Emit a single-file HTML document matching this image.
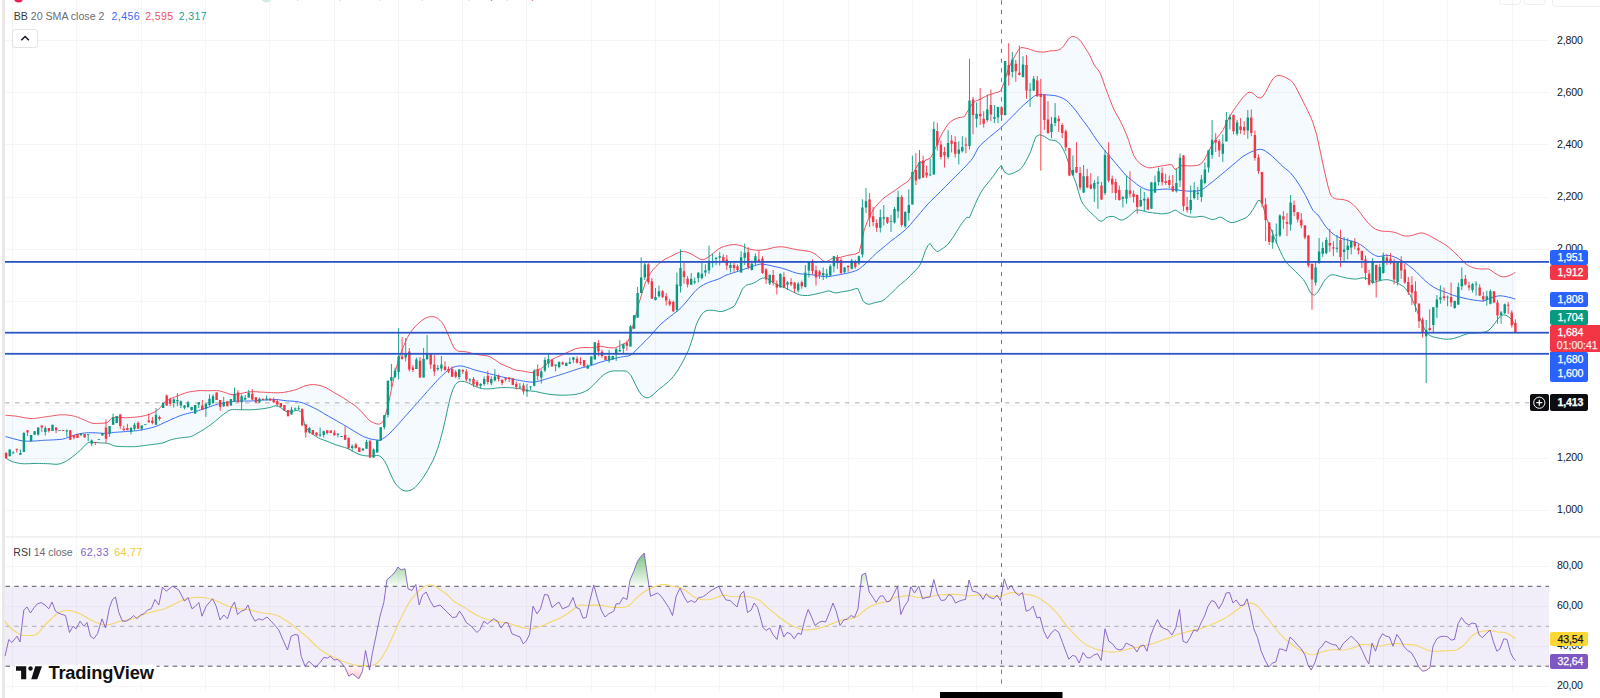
<!DOCTYPE html>
<html><head><meta charset="utf-8"><title>Chart</title>
<style>
html,body{margin:0;padding:0;background:#fff}
body{width:1600px;height:698px;overflow:hidden;position:relative;font-family:"Liberation Sans",sans-serif;}
#c{position:absolute;left:0;top:0;width:1600px;height:698px;overflow:hidden;background:#fff}
.ax{position:absolute;left:1557px;font-size:10.600px;line-height:12px;color:#131722;letter-spacing:-0.150px;white-space:nowrap}
.pl{position:absolute;box-sizing:border-box;-webkit-text-stroke:0.250px currentColor;font-size:10.600px;line-height:14px;letter-spacing:-0.150px;padding-left:7.500px;border-radius:2px;white-space:nowrap}
.lg{position:absolute;left:0;padding-left:13.700px;font-size:10.600px;line-height:12px;color:#6a6d77;white-space:nowrap;letter-spacing:0px}
.lg .n{position:absolute;top:0;letter-spacing:0.380px}
.lg b{font-weight:normal;color:#363942}
#ohlc{position:absolute;left:281.400px;top:-10.800px;font-size:10.600px;line-height:12px;color:#f23645;white-space:nowrap;word-spacing:2.300px;letter-spacing:0.380px}
#btn{position:absolute;left:12px;top:29px;width:26px;height:18.500px;box-sizing:border-box;border:1px solid #e2e3e6;border-radius:3px;background:#fff}
#tv{position:absolute;left:48.500px;top:663.100px;font-size:18.300px;line-height:20px;font-weight:bold;color:#101114;letter-spacing:-0.200px;white-space:nowrap}
</style></head><body><div id="c">
<svg width="1600" height="698" viewBox="0 0 1600 698" style="position:absolute;left:0;top:0">
<rect x="2" y="0" width="3" height="698" fill="#e9e9e9"/>
<path d="M12.5 0V691 M76.5 0V691 M141.5 0V691 M205.5 0V691 M269.5 0V691 M334.5 0V691 M398.5 0V691 M462.5 0V691 M526.5 0V691 M591.5 0V691 M655.5 0V691 M719.5 0V691 M783.5 0V691 M848.5 0V691 M912.5 0V691 M976.5 0V691 M1041.5 0V691 M1105.5 0V691 M1169.5 0V691 M1233.5 0V691 M1319.5 0V691 M1383.5 0V691 M1447.5 0V691 M1512.5 0V691 M5 40.5H1549 M5 92.5H1549 M5 144.5H1549 M5 197.5H1549 M5 249.5H1549 M5 301.5H1549 M5 353.5H1549 M5 405.5H1549 M5 458.5H1549 M5 510.5H1549 M5 566.5H1549 M5 606.5H1549 M5 646.5H1549 M5 686.5H1549" stroke="#f5f5f6" stroke-width="1" fill="none"/>
<rect x="5" y="536.200" width="1595" height="1.500" fill="#eeeeef"/>
<path d="M5.5 415.3 L7.2 415.4 L9.7 415.5 L12.4 415.8 L15 416 L17.1 416.3 L19.1 416.7 L21.2 417.1 L23.2 417.5 L25.1 417.8 L27.7 418.2 L30 418.5 L32.6 418.5 L34.4 418.4 L36.4 418.2 L38.5 417.9 L40.6 417.6 L42.6 417.3 L44.6 417 L46.6 416.7 L48.7 416.4 L50.7 416.1 L52.7 415.8 L54.7 415.5 L56.7 415.3 L58.7 415 L60.7 414.8 L62.7 414.8 L64.7 414.8 L66.8 415 L68.9 415.2 L70.9 415.5 L72.7 415.8 L75.4 416.5 L77.8 417.3 L80.3 418.3 L82.9 419.4 L85.5 420.5 L87.8 421.6 L90.3 422.6 L92.8 423.3 L95.1 423.5 L97.7 423.4 L100.3 423.3 L103 423.2 L105.6 422.9 L107.8 422.3 L111.6 418.3 L113.5 417.7 L115.6 417.4 L117.9 417.3 L120.3 417.4 L122.8 417.6 L125.4 417.8 L127.9 417.7 L130.4 417.5 L132.9 417.3 L135.4 417.1 L137.9 416.9 L140.4 416.5 L142.9 416.1 L145.5 415.5 L148 414.8 L150.6 413.8 L153.2 412.7 L155.5 411.5 L158.2 409.5 L160.5 407.3 L162.9 404.3 L165.5 401.5 L167.8 400.1 L170.4 398.9 L173 397.7 L175.5 396.6 L178.1 395.7 L180.6 394.7 L183 393.8 L185.4 393 L188.1 392.2 L189.9 391.8 L191.9 391.5 L194 391.2 L196.1 390.9 L198.1 390.7 L200.1 390.6 L202.1 390.6 L204.1 390.6 L206.1 390.7 L208.2 390.7 L210.2 390.7 L212.3 390.6 L214.3 390.6 L216.3 390.6 L218.2 390.7 L220.9 391.2 L223.4 392 L225.7 392.7 L227.9 393.5 L229.9 394.3 L232 394.7 L234 394.7 L236 394.4 L238.2 394 L240.3 393.6 L242.6 393.1 L244.9 392.6 L247 392.2 L249.2 391.9 L251 391.8 L253.3 391.7 L255.1 391.7 L257 391.8 L259.1 392 L261.3 392.1 L263.3 392.2 L265.4 392.3 L267.5 392.4 L269.5 392.5 L271.5 392.6 L273.4 392.7 L276 392.8 L278.5 392.8 L280.9 392.7 L283.4 392.4 L285.9 392 L288.4 391.5 L290.9 391 L293.4 390.4 L295.9 389.7 L298.4 388.7 L300.9 387.5 L303.4 386.4 L306 385.7 L308.5 385 L311 384.7 L313.5 384.6 L316 384.8 L318.5 385.2 L321 385.8 L323.5 386.6 L326 387.7 L328.5 389.1 L331 390.6 L333.5 392.2 L336.1 393.6 L338.6 395 L341.1 396.5 L343.6 398.1 L346.1 399.8 L348.6 401.5 L351.1 403.1 L353.6 404.6 L356.1 406.5 L358.7 408.9 L361.3 411.6 L363.6 414 L366.3 417.2 L368.7 419.8 L371.1 421.6 L373.7 422.8 L376.5 423.9 L379.3 424.1 L381.7 423 L383.8 420.3 L387.5 407.8 L391.3 390.2 L395 372.6 L397.5 363.5 L400.1 355.1 L402.6 348.4 L405.1 342.8 L407.4 337.6 L410.1 332.9 L412.4 329.8 L415 326.8 L417.6 324.1 L420.2 321.8 L422.7 319.9 L425.1 318.4 L427.3 317.4 L429.4 316.8 L431.4 316.6 L433.5 316.7 L435.6 317.3 L437.7 318.4 L439.8 320.2 L442 322.5 L443.9 325.4 L446.5 330.8 L449 336.7 L451.6 342.8 L454 348 L457.7 351 L460 351.4 L462.6 351.5 L465.3 351.7 L467.8 352.2 L470.3 352.9 L472.8 353.5 L475.3 354 L477.8 354.5 L480.3 355 L482.9 355.3 L485.4 355.5 L487.8 356 L490 356.9 L492.1 358 L494.1 359.2 L496.2 360.6 L498.2 362.1 L500.4 363.5 L502.8 364.7 L505.3 365.7 L507.9 366.8 L510.4 367.9 L512.9 369.1 L515.4 370 L517.9 370.5 L520.4 370.7 L522.9 371 L525.6 371.6 L528.3 372.1 L530.5 372.5 L533 372.6 L535.5 370.1 L537.8 369.6 L540.5 368.9 L542.9 367.3 L545.5 365.1 L547.8 363.1 L550.4 360.8 L553 358.9 L555.5 357.6 L558.1 356.6 L560.6 355.6 L563.1 354.4 L565.6 353.2 L568.1 352.1 L570.6 350.9 L573.1 349.8 L575.6 348.8 L578 348.2 L580.4 347.8 L583.1 347.6 L585 347.5 L587.1 347.5 L589.2 347.6 L591.3 347.6 L593.2 347.6 L595.9 347.2 L598.3 346.6 L600.7 346.3 L603.2 346.6 L605.7 347.2 L608.2 347.6 L610.7 347.8 L613.2 347.9 L615.7 347.6 L618.3 346.5 L620.9 345.1 L623.3 343.8 L626.1 342.8 L628.3 341.3 L630.8 332.9 L634.5 320.4 L638.3 305.3 L642.1 292.8 L645.8 281.5 L648.3 276.8 L650.8 272.7 L653.2 269.4 L655.9 266.5 L658.2 264.3 L660.8 262.1 L663.4 260.2 L665.9 258.7 L668.4 257.6 L670.9 256.4 L673.5 255.1 L676.1 253.7 L678.4 252.7 L680.9 251.6 L683.4 251.4 L685.8 251.9 L688.4 252.8 L691 253.9 L693.6 255.3 L696.2 256.9 L698.5 258.2 L701 259.5 L703.5 259.7 L705.8 258.7 L708.4 257 L711 255.2 L713.5 253.1 L716.1 250.8 L718.6 248.9 L721.1 247.6 L723.6 246.6 L726.1 245.9 L728.6 245.3 L731.1 244.8 L733.6 244.6 L736.1 244.7 L738.6 245.1 L741.1 245.6 L743.6 246.6 L746.1 247.9 L748.7 248.9 L751.3 249.5 L753.9 249.9 L756.2 250.2 L760 250.3 L762.2 250 L764.9 249.6 L767.5 249.1 L770 248.5 L772.5 247.8 L775 247.3 L777.6 247 L780.1 246.8 L782.6 246.8 L785.1 247.2 L787.6 247.7 L790.1 248.3 L792.6 248.8 L795.1 249.3 L797.6 249.8 L800.2 250.2 L802.8 250.5 L805.1 250.8 L807.8 251.1 L810.2 251.6 L812.7 252.6 L815.2 254.1 L817.6 256.1 L820.2 258.3 L822.8 260.6 L825.7 261.8 L827.9 261.1 L830.3 259.6 L832.7 258.3 L835.2 257.9 L837.7 257.7 L840.3 257.3 L842.8 256.7 L845.3 256 L847.8 255.3 L850.4 254.9 L853.1 254.5 L855.3 254.1 L859.1 252.3 L861.6 242.8 L864.1 230.3 L867.8 220.2 L870.3 215 L872.9 210.2 L875.4 206.7 L877.9 203.9 L880.4 201.3 L882.9 198.9 L885.2 197 L887.9 195.1 L890.2 193.6 L892.8 191.9 L895.4 190.1 L898 188.2 L900.6 186.3 L902.9 184.6 L905.7 182.9 L908 181.3 L911.7 176.3 L915.5 168.8 L918.1 164.4 L920.5 161.3 L923 164.2 L925.5 160 L927.9 159.3 L930.5 157.9 L933 153.5 L935.5 147.9 L938.1 142.2 L940.6 136.6 L943.1 131.9 L945.6 127.8 L947.9 124.4 L950.6 121.6 L953 120 L955.6 118.8 L958.1 117.8 L960.4 117.4 L962.5 117.2 L964.4 116.5 L968.2 110.3 L970.4 106.3 L973.2 102.7 L975.5 101.2 L978.1 100.1 L980.7 99 L983.2 97.7 L985.7 96.4 L988.2 95.2 L990.8 94.3 L993.4 93.5 L995.7 92.7 L998.5 92.1 L1000.8 90.7 L1004.5 81.4 L1008.3 68.9 L1010.7 63.6 L1013.3 58.9 L1016 54 L1018.3 50.1 L1020.8 47.6 L1023 47.7 L1025.6 48.2 L1028.3 48.8 L1030.8 49.6 L1033.4 50.6 L1035.9 51.3 L1038.4 51.8 L1040.9 52 L1043.4 52.1 L1045.9 51.8 L1048.4 51.3 L1050.9 50.8 L1053.5 50.7 L1056.1 50.5 L1058.4 50.1 L1061.1 48.6 L1063.4 46.3 L1066 42.5 L1068.5 38.8 L1072.2 36.3 L1074.2 36.6 L1076.4 37.5 L1078.5 38.8 L1081.3 41.9 L1083.5 45.1 L1085.2 48 L1087.6 51.6 L1090.2 56 L1092.1 60.5 L1094.2 65.1 L1096.1 67.6 L1098.2 70 L1100.2 73.1 L1102.8 79.8 L1105.2 87.1 L1107.8 93.9 L1110.2 100.2 L1112.2 105.4 L1114.2 110 L1116.3 113.9 L1118.6 117.8 L1121.1 122.5 L1123.6 127.8 L1126.1 133.8 L1128.7 140.4 L1131.1 148.2 L1133.7 155.4 L1136.5 159.9 L1139.3 162.9 L1142.2 165.1 L1145 166.6 L1147.4 167.6 L1150 167.9 L1152.4 167.6 L1155 167.1 L1157.6 166.6 L1160.1 166.2 L1162.6 165.7 L1165.1 165.4 L1167.6 164.9 L1169.9 164.6 L1171.9 164.8 L1175 169.6 L1177.5 168.1 L1180.7 165.7 L1182.6 165.6 L1185.1 165.7 L1187.7 165.8 L1190.2 165.9 L1192.5 165.8 L1194.8 165.7 L1197 165.4 L1198.9 164.9 L1201.7 163.2 L1203.9 160.3 L1206.4 155.7 L1209 150.3 L1210.9 147 L1213 143.6 L1215.2 140.3 L1217.7 137 L1220.3 133.8 L1222.8 130.3 L1224.9 126.2 L1227 121.8 L1229 117.7 L1231.1 114.2 L1233.1 110.9 L1235.3 107.7 L1237.8 104.2 L1240.4 100.7 L1242.8 97.6 L1245.1 95.2 L1247.2 93.3 L1249.1 92.1 L1252.9 93.1 L1255.3 95.5 L1257.9 97.6 L1260.4 97.9 L1262.9 96.4 L1265.4 92.5 L1267.9 87.6 L1270.4 82.9 L1272.9 78.8 L1275.1 76.6 L1277.4 75.6 L1280.2 75.6 L1282.9 76.3 L1285.5 77.4 L1288 78.8 L1290.5 80.3 L1293 82.6 L1295.5 86.6 L1298 91.4 L1300.5 96.3 L1303 101.4 L1305.5 106.3 L1308 111.4 L1310.6 116.9 L1313 122.7 L1316.8 135.3 L1320.6 152.8 L1324.3 170.4 L1328.1 186.7 L1330.6 195 L1332.8 197.4 L1335.6 198.8 L1337.9 199.2 L1340.5 199.3 L1343.1 199.6 L1345.6 200.2 L1348.2 201.1 L1350.7 202.6 L1353.2 204.7 L1355.7 207.2 L1358.2 210.1 L1360.7 213.3 L1363.2 216.9 L1365.7 220.1 L1368.2 223 L1370.7 225.5 L1373.2 227.6 L1375.7 229.2 L1378.2 230.2 L1380.8 230.9 L1383.3 231.3 L1385.8 231.3 L1388.3 231.4 L1390.8 231.7 L1393.3 232.1 L1395.8 232.7 L1398.3 233.6 L1400.8 234.8 L1403.3 235.7 L1405.8 236 L1408.3 236 L1410.8 235.7 L1413.4 235 L1416 234.1 L1418.4 233.4 L1420.9 232.9 L1423.4 233.2 L1425.7 234 L1428.3 235.1 L1430.9 236.4 L1433.4 237.8 L1435.9 239.2 L1438.4 240.7 L1440.9 242.1 L1443.4 243.6 L1446 245.2 L1448.5 247.1 L1451 249.2 L1453.5 251.5 L1456.1 254 L1458.7 256.6 L1461 259 L1463.5 261.7 L1466 264 L1468.3 265.5 L1470.9 266.8 L1473.5 267.8 L1476.1 268.4 L1478.6 268.8 L1481.1 269 L1483.7 269 L1486.3 268.8 L1488.6 269 L1491.1 270.4 L1493.6 272.3 L1496 273.8 L1498.7 275.4 L1501.1 276.6 L1503.8 276.9 L1506.1 276.6 L1508.7 275.8 L1511.2 274.8 L1513.6 273.4 L1515.4 272.3 L1515.4 325.5 L1513.6 322.6 L1511.2 319.2 L1508.7 316.9 L1506.1 315.4 L1503.6 314.8 L1501.1 315.4 L1498.6 318.2 L1496.1 321.7 L1493.6 325 L1491.1 328 L1488.9 330.2 L1486.1 331.7 L1484.4 332.1 L1482.3 332.4 L1480.1 332.7 L1478 332.8 L1476.1 333 L1473.4 333.1 L1470.9 333.2 L1468.5 333.5 L1466 334.2 L1463.5 335.1 L1461 336 L1458.5 336.9 L1456 337.8 L1453.5 338.5 L1451 339 L1448.5 339.2 L1446 339.2 L1443.4 339 L1440.9 338.5 L1438.4 338 L1435.8 337.5 L1433.2 336.9 L1430.9 336 L1428.2 334.4 L1425.9 331.7 L1423.4 326.6 L1420.9 320.4 L1418.4 314.3 L1415.9 307.9 L1413.9 303.2 L1411.7 298.3 L1409.6 294.1 L1407.5 291 L1405.5 288.6 L1403.3 286.6 L1400.9 284.9 L1398.4 283.5 L1395.8 282.3 L1393.3 281.2 L1390.8 280.4 L1388.3 279.8 L1385.8 279.7 L1383.3 279.9 L1380.8 280.3 L1378.2 281.1 L1375.6 282 L1373.2 282.3 L1370.6 280.9 L1368.2 279.1 L1365.9 278.2 L1363.2 277.8 L1360.9 278.1 L1358.3 278.7 L1355.7 279.1 L1353.2 279 L1350.7 278.7 L1348.2 278.3 L1345.6 277.8 L1343.1 277.2 L1340.6 276.6 L1338 275.8 L1335.4 275.1 L1333.1 274.8 L1330.4 275.2 L1328.1 276.6 L1325.6 279.2 L1323.1 282.8 L1320.5 287.4 L1318.1 291.6 L1314.3 295.4 L1310.5 292.9 L1308.1 288.1 L1305.5 282.8 L1303.2 279.5 L1300.5 276.6 L1298.2 274.1 L1295.6 271.6 L1293 269 L1290.4 266.6 L1287.8 264.2 L1285.5 261.5 L1282.8 256.7 L1280.4 251.5 L1277.9 246 L1275.4 240.2 L1272.9 234 L1270.4 227.6 L1267.7 221.2 L1265.4 215.1 L1262.9 205.1 L1260.4 200.6 L1257.9 200.6 L1254.1 207.6 L1252.2 210.6 L1250.1 213.7 L1247.8 216.4 L1245.4 218 L1242.9 219.2 L1240.3 220.1 L1237.7 221.2 L1235.1 222.1 L1232.8 222.6 L1230.3 222.4 L1227.8 221.4 L1225.5 219.9 L1222.9 218.1 L1220.3 217.1 L1217.8 217.7 L1215.4 219 L1212.7 219.6 L1210.8 219.3 L1208.8 218.5 L1206.6 217.7 L1204.6 216.9 L1202.7 216.4 L1200 216.4 L1197.6 216.8 L1195.2 217.1 L1192.7 217.1 L1190.2 216.9 L1187.6 216.4 L1185 215.5 L1182.4 214.3 L1180.1 213.1 L1177.5 211.2 L1175.1 210.1 L1172.8 211.1 L1170.1 212.6 L1167.8 213.2 L1165.2 213.6 L1162.6 213.9 L1160.1 213.8 L1157.6 213.4 L1155 213.1 L1152.5 212.8 L1150 212.5 L1147.5 212.1 L1144.9 211.4 L1142.2 210.6 L1140 210.1 L1136.2 210.2 L1133.9 211.9 L1131.3 214.3 L1128.7 216.5 L1126.1 218.2 L1123.6 219.6 L1121.1 220.2 L1118.6 219.3 L1116.1 217.6 L1113.6 216.5 L1111 216.4 L1108.4 216.9 L1106.1 217.7 L1103.6 220.1 L1101.1 221.5 L1098.7 220.2 L1096.1 217.8 L1093.5 215.2 L1090.9 212.8 L1088.3 210.2 L1086 207.7 L1083.4 204.5 L1081 200.2 L1078.5 191.9 L1076 183 L1073.5 176.6 L1071 170.5 L1068.5 162.8 L1066 155.4 L1063.4 149.7 L1060.9 145.4 L1058.5 142.6 L1055.9 140.9 L1053.9 140.4 L1051.7 140.2 L1049.7 139.9 L1047.1 138.3 L1044.6 136.6 L1042.1 135.4 L1039.6 134.8 L1035.9 136.6 L1033.4 143.4 L1030.8 151.3 L1028.3 156.7 L1025.8 161.3 L1023.5 165.4 L1020.8 168.8 L1018.4 170.6 L1015.7 172 L1013.3 173.1 L1010.5 174.1 L1008.3 174.3 L1004.5 172.1 L1001.3 165.5 L998.2 168.8 L995.9 172.4 L993.2 176.3 L990.7 179.5 L988.2 182.6 L985.7 185.6 L983.2 188.9 L980.7 192.9 L978.2 197.6 L975.6 203.3 L973.2 208.9 L969.4 217.7 L966.9 217.2 L965.1 219.2 L962.9 222.1 L960.6 225.2 L958.5 228.5 L956.4 231.9 L954.4 235.3 L952.3 238.4 L950.2 241.4 L948.1 244 L946 246.1 L943.8 247.7 L941.8 249.1 L939.2 250.9 L936.8 251.6 L933 247.8 L930 243.3 L927.9 245.7 L925.5 250.3 L923.2 257.1 L920.5 264.1 L918.2 267.5 L915.6 270.2 L913 272.9 L910.5 275.5 L908 278 L905.5 280.4 L902.9 282.5 L900.4 284.5 L897.9 286.7 L895.4 289.1 L892.9 291.7 L890.4 294.2 L887.9 296.5 L885.4 298.7 L882.9 300.5 L880.4 301.5 L877.9 302 L875.4 302.5 L872.8 303.3 L870.2 304.1 L867.8 304.2 L865 302.9 L862.8 300.5 L860.3 294.2 L857.8 288.4 L855.7 288.6 L853 289.5 L850.3 290.4 L847.8 290.9 L845.3 291.3 L842.8 291.7 L840.2 292.2 L837.7 292.8 L835.2 292.9 L833.1 292.4 L831 291.5 L829 290.9 L826.9 291.2 L824.9 291.8 L822.7 292.4 L820.3 293 L817.7 293.6 L815.2 294.2 L812.7 294.7 L810.2 295.2 L807.6 295.5 L805.1 295.5 L802.6 295.4 L800.1 295 L797.6 294.1 L795.1 292.9 L792.6 291.7 L790.1 290.4 L787.6 289.1 L785.1 287.9 L782.6 286.9 L780.1 286 L777.6 284.9 L775 283.5 L772.4 281.8 L770 280.4 L767.4 278.8 L765 277.9 L762.4 278.2 L760 279.2 L756.2 281.8 L753.7 283 L751.2 284 L748.6 284.5 L746.1 285.3 L742.4 289 L738.6 297.8 L734.9 305.3 L733 306.9 L730.9 308.1 L728.6 309.1 L726.2 310.2 L723.6 311.1 L721.1 311.6 L718.6 311.4 L716.1 310.8 L713.5 310.3 L710.9 310.2 L708.3 310.3 L706 310.8 L703.4 312.5 L701 315.4 L698.3 320.1 L696 325.4 L693.5 335 L691.3 342.2 L688.5 350.1 L686.1 355.2 L683.5 360.4 L680.9 365.1 L678.4 369.3 L675.9 373.1 L673.4 376.4 L670.9 379.3 L668.4 381.7 L665.9 383.9 L663.4 385.9 L660.9 387.8 L658.4 389.7 L655.8 392.1 L653.2 394.6 L650.8 396.5 L648.2 397.8 L645.8 397.7 L643.3 396.5 L640.8 394 L638.3 390 L635.8 385.2 L633.2 379.9 L630.8 375.2 L627 371.4 L625.2 371 L622.9 370.9 L620.5 370.9 L618.2 370.9 L615.6 370.9 L613.2 370.9 L610.7 371.4 L608.2 372.3 L605.7 373.5 L603.2 375.2 L600.7 377.4 L598.2 380.1 L595.7 382.7 L593.2 385.2 L590.7 387.6 L588.2 389.7 L585.6 391.2 L583.1 392.3 L580.6 393.2 L578.2 393.9 L575.8 394.4 L573.1 394.7 L571.3 394.9 L569.3 395 L567.2 395.1 L565.1 395.2 L563.1 395.2 L561.1 395.2 L559.1 395.1 L557.1 395 L555 394.9 L553 394.7 L551 394.5 L548.9 394.2 L546.8 393.9 L544.9 393.5 L543 393.2 L540.3 392.6 L537.9 392 L535.5 391.5 L533 391.2 L530.5 391 L528 390.7 L525.5 390.2 L523.1 389.5 L520.4 388.9 L518.6 388.6 L516.6 388.4 L514.5 388.1 L512.5 387.9 L510.4 387.7 L508.3 387.6 L506.2 387.6 L504 387.6 L502.1 387.6 L500.4 387.7 L497.7 387.9 L495.4 388.2 L493 388.5 L490.4 388.8 L487.8 388.9 L485.3 388.9 L482.8 388.7 L480.3 388.2 L477.8 387.4 L475.2 386.3 L472.8 385.2 L470.6 384.1 L468.6 383 L466.5 382.2 L464.4 381.6 L462.2 381.3 L460.3 381.4 L457.7 382.2 L455.2 384.7 L452.7 390 L450.2 397.7 L447.7 408.6 L445.2 420.3 L442.7 430.8 L440.2 440.4 L437.8 448.2 L435.2 455.4 L432.9 460.6 L430.2 465.7 L427.6 470.5 L425.1 474.6 L422.6 478.4 L420.1 481.7 L417.6 484.7 L415.1 487.3 L412.6 489.3 L410 490.4 L407.4 491 L405.1 491 L402.4 490.2 L400.1 488.5 L397.6 486.2 L395 483 L392.5 478.3 L390 473 L387.6 467.1 L385 461.7 L382.2 458 L379.3 455.8 L376.6 455.5 L373.7 455.9 L371.3 456 L368.7 456 L366.1 455.9 L363.6 455.5 L361.1 455 L358.6 454.2 L356 453 L353.4 451.6 L351.1 450.4 L348.7 449.1 L346.1 447.9 L344.4 447.3 L342.4 446.8 L340.3 446.2 L338.1 445.5 L336.1 444.9 L334 444.1 L331.9 443.3 L329.9 442.4 L327.9 441.6 L326 440.9 L323.3 439.9 L320.9 439 L318.5 437.9 L315.9 436.4 L313.4 434.8 L311 432.8 L308.6 430.7 L306.5 428.3 L304.7 425.3 L302.2 412.8 L298.4 410.3 L296.1 410.5 L293.4 411.1 L290.9 411.5 L288.2 411.8 L285.9 411.5 L283.4 409.8 L280.9 407.8 L278.4 406.4 L275.9 405.8 L273.7 406.3 L270.8 407.3 L269.2 407.6 L267.2 408 L265.1 408.4 L262.9 408.7 L260.8 409 L258.8 409.2 L256.8 409.4 L254.8 409.6 L252.8 409.7 L250.8 409.8 L248.8 409.8 L246.8 409.8 L244.8 409.8 L242.8 409.8 L240.8 409.8 L238.7 409.7 L236.5 409.6 L234.4 409.5 L232.4 409.6 L230.7 409.8 L227.9 411 L225.7 412.8 L223.4 414.5 L220.7 416.5 L218.4 418.5 L215.8 420.7 L213.2 422.8 L210.7 424.7 L208.2 426.6 L205.6 428.3 L203.1 429.9 L200.6 431.4 L198.1 432.8 L195.7 434.2 L193.3 435.6 L190.6 436.6 L188.7 437 L186.8 437.2 L184.7 437.4 L182.6 437.6 L180.6 437.9 L178.5 438.2 L176.4 438.6 L174.4 438.9 L172.4 439.4 L170.5 439.9 L167.8 440.9 L165.4 442 L163 442.9 L160.6 443.4 L158.2 443.8 L155.5 444.1 L153.6 444.4 L151.7 444.6 L149.6 444.9 L147.5 445.1 L145.5 445.4 L143.4 445.6 L141.4 445.9 L139.4 446.2 L137.4 446.5 L135.4 446.6 L133.4 446.7 L131.4 446.7 L129.4 446.7 L127.4 446.7 L125.4 446.6 L123.3 446.6 L121.3 446.6 L119.2 446.5 L117.2 446.4 L115.4 446.1 L112.7 445.3 L110.3 444.2 L107.8 443.4 L105.3 443 L102.7 443 L100.3 442.9 L98.1 442.7 L96.1 442.5 L94 442.4 L92 442.2 L90 442.1 L87.8 442.9 L85.4 444.9 L82.8 447.7 L80.3 450.4 L77.7 452.6 L75.2 454.7 L72.7 456.7 L70.2 458.5 L67.7 460.2 L65.2 461.7 L62.8 462.8 L60.4 463.7 L57.7 464.2 L55.9 464.3 L54 464.2 L52 464 L49.9 463.8 L47.6 463.7 L45.7 463.6 L43.7 463.6 L41.5 463.5 L39.4 463.5 L37.2 463.4 L35.1 463.4 L33 463.5 L30.8 463.6 L28.7 463.7 L26.6 463.7 L24.5 463.8 L22.6 463.7 L20.4 463.5 L18.2 463.1 L16.2 462.7 L14.3 462.2 L12.5 461.7 L9.7 460.4 L7.2 459 L5.5 457.9Z" fill="#2196f3" fill-opacity="0.05" stroke="none"/>
<path d="M5.5 415.3 L7.2 415.4 L9.7 415.5 L12.4 415.8 L15 416 L17.1 416.3 L19.1 416.7 L21.2 417.1 L23.2 417.5 L25.1 417.8 L27.7 418.2 L30 418.5 L32.6 418.5 L34.4 418.4 L36.4 418.2 L38.5 417.9 L40.6 417.6 L42.6 417.3 L44.6 417 L46.6 416.7 L48.7 416.4 L50.7 416.1 L52.7 415.8 L54.7 415.5 L56.7 415.3 L58.7 415 L60.7 414.8 L62.7 414.8 L64.7 414.8 L66.8 415 L68.9 415.2 L70.9 415.5 L72.7 415.8 L75.4 416.5 L77.8 417.3 L80.3 418.3 L82.9 419.4 L85.5 420.5 L87.8 421.6 L90.3 422.6 L92.8 423.3 L95.1 423.5 L97.7 423.4 L100.3 423.3 L103 423.2 L105.6 422.9 L107.8 422.3 L111.6 418.3 L113.5 417.7 L115.6 417.4 L117.9 417.3 L120.3 417.4 L122.8 417.6 L125.4 417.8 L127.9 417.7 L130.4 417.5 L132.9 417.3 L135.4 417.1 L137.9 416.9 L140.4 416.5 L142.9 416.1 L145.5 415.5 L148 414.8 L150.6 413.8 L153.2 412.7 L155.5 411.5 L158.2 409.5 L160.5 407.3 L162.9 404.3 L165.5 401.5 L167.8 400.1 L170.4 398.9 L173 397.7 L175.5 396.6 L178.1 395.7 L180.6 394.7 L183 393.8 L185.4 393 L188.1 392.2 L189.9 391.8 L191.9 391.5 L194 391.2 L196.1 390.9 L198.1 390.7 L200.1 390.6 L202.1 390.6 L204.1 390.6 L206.1 390.7 L208.2 390.7 L210.2 390.7 L212.3 390.6 L214.3 390.6 L216.3 390.6 L218.2 390.7 L220.9 391.2 L223.4 392 L225.7 392.7 L227.9 393.5 L229.9 394.3 L232 394.7 L234 394.7 L236 394.4 L238.2 394 L240.3 393.6 L242.6 393.1 L244.9 392.6 L247 392.2 L249.2 391.9 L251 391.8 L253.3 391.7 L255.1 391.7 L257 391.8 L259.1 392 L261.3 392.1 L263.3 392.2 L265.4 392.3 L267.5 392.4 L269.5 392.5 L271.5 392.6 L273.4 392.7 L276 392.8 L278.5 392.8 L280.9 392.7 L283.4 392.4 L285.9 392 L288.4 391.5 L290.9 391 L293.4 390.4 L295.9 389.7 L298.4 388.7 L300.9 387.5 L303.4 386.4 L306 385.7 L308.5 385 L311 384.7 L313.5 384.6 L316 384.8 L318.5 385.2 L321 385.8 L323.5 386.6 L326 387.7 L328.5 389.1 L331 390.6 L333.5 392.2 L336.1 393.6 L338.6 395 L341.1 396.5 L343.6 398.1 L346.1 399.8 L348.6 401.5 L351.1 403.1 L353.6 404.6 L356.1 406.5 L358.7 408.9 L361.3 411.6 L363.6 414 L366.3 417.2 L368.7 419.8 L371.1 421.6 L373.7 422.8 L376.5 423.9 L379.3 424.1 L381.7 423 L383.8 420.3 L387.5 407.8 L391.3 390.2 L395 372.6 L397.5 363.5 L400.1 355.1 L402.6 348.4 L405.1 342.8 L407.4 337.6 L410.1 332.9 L412.4 329.8 L415 326.8 L417.6 324.1 L420.2 321.8 L422.7 319.9 L425.1 318.4 L427.3 317.4 L429.4 316.8 L431.4 316.6 L433.5 316.7 L435.6 317.3 L437.7 318.4 L439.8 320.2 L442 322.5 L443.9 325.4 L446.5 330.8 L449 336.7 L451.6 342.8 L454 348 L457.7 351 L460 351.4 L462.6 351.5 L465.3 351.7 L467.8 352.2 L470.3 352.9 L472.8 353.5 L475.3 354 L477.8 354.5 L480.3 355 L482.9 355.3 L485.4 355.5 L487.8 356 L490 356.9 L492.1 358 L494.1 359.2 L496.2 360.6 L498.2 362.1 L500.4 363.5 L502.8 364.7 L505.3 365.7 L507.9 366.8 L510.4 367.9 L512.9 369.1 L515.4 370 L517.9 370.5 L520.4 370.7 L522.9 371 L525.6 371.6 L528.3 372.1 L530.5 372.5 L533 372.6 L535.5 370.1 L537.8 369.6 L540.5 368.9 L542.9 367.3 L545.5 365.1 L547.8 363.1 L550.4 360.8 L553 358.9 L555.5 357.6 L558.1 356.6 L560.6 355.6 L563.1 354.4 L565.6 353.2 L568.1 352.1 L570.6 350.9 L573.1 349.8 L575.6 348.8 L578 348.2 L580.4 347.8 L583.1 347.6 L585 347.5 L587.1 347.5 L589.2 347.6 L591.3 347.6 L593.2 347.6 L595.9 347.2 L598.3 346.6 L600.7 346.3 L603.2 346.6 L605.7 347.2 L608.2 347.6 L610.7 347.8 L613.2 347.9 L615.7 347.6 L618.3 346.5 L620.9 345.1 L623.3 343.8 L626.1 342.8 L628.3 341.3 L630.8 332.9 L634.5 320.4 L638.3 305.3 L642.1 292.8 L645.8 281.5 L648.3 276.8 L650.8 272.7 L653.2 269.4 L655.9 266.5 L658.2 264.3 L660.8 262.1 L663.4 260.2 L665.9 258.7 L668.4 257.6 L670.9 256.4 L673.5 255.1 L676.1 253.7 L678.4 252.7 L680.9 251.6 L683.4 251.4 L685.8 251.9 L688.4 252.8 L691 253.9 L693.6 255.3 L696.2 256.9 L698.5 258.2 L701 259.5 L703.5 259.7 L705.8 258.7 L708.4 257 L711 255.2 L713.5 253.1 L716.1 250.8 L718.6 248.9 L721.1 247.6 L723.6 246.6 L726.1 245.9 L728.6 245.3 L731.1 244.8 L733.6 244.6 L736.1 244.7 L738.6 245.1 L741.1 245.6 L743.6 246.6 L746.1 247.9 L748.7 248.9 L751.3 249.5 L753.9 249.9 L756.2 250.2 L760 250.3 L762.2 250 L764.9 249.6 L767.5 249.1 L770 248.5 L772.5 247.8 L775 247.3 L777.6 247 L780.1 246.8 L782.6 246.8 L785.1 247.2 L787.6 247.7 L790.1 248.3 L792.6 248.8 L795.1 249.3 L797.6 249.8 L800.2 250.2 L802.8 250.5 L805.1 250.8 L807.8 251.1 L810.2 251.6 L812.7 252.6 L815.2 254.1 L817.6 256.1 L820.2 258.3 L822.8 260.6 L825.7 261.8 L827.9 261.1 L830.3 259.6 L832.7 258.3 L835.2 257.9 L837.7 257.7 L840.3 257.3 L842.8 256.7 L845.3 256 L847.8 255.3 L850.4 254.9 L853.1 254.5 L855.3 254.1 L859.1 252.3 L861.6 242.8 L864.1 230.3 L867.8 220.2 L870.3 215 L872.9 210.2 L875.4 206.7 L877.9 203.9 L880.4 201.3 L882.9 198.9 L885.2 197 L887.9 195.1 L890.2 193.6 L892.8 191.9 L895.4 190.1 L898 188.2 L900.6 186.3 L902.9 184.6 L905.7 182.9 L908 181.3 L911.7 176.3 L915.5 168.8 L918.1 164.4 L920.5 161.3 L923 164.2 L925.5 160 L927.9 159.3 L930.5 157.9 L933 153.5 L935.5 147.9 L938.1 142.2 L940.6 136.6 L943.1 131.9 L945.6 127.8 L947.9 124.4 L950.6 121.6 L953 120 L955.6 118.8 L958.1 117.8 L960.4 117.4 L962.5 117.2 L964.4 116.5 L968.2 110.3 L970.4 106.3 L973.2 102.7 L975.5 101.2 L978.1 100.1 L980.7 99 L983.2 97.7 L985.7 96.4 L988.2 95.2 L990.8 94.3 L993.4 93.5 L995.7 92.7 L998.5 92.1 L1000.8 90.7 L1004.5 81.4 L1008.3 68.9 L1010.7 63.6 L1013.3 58.9 L1016 54 L1018.3 50.1 L1020.8 47.6 L1023 47.7 L1025.6 48.2 L1028.3 48.8 L1030.8 49.6 L1033.4 50.6 L1035.9 51.3 L1038.4 51.8 L1040.9 52 L1043.4 52.1 L1045.9 51.8 L1048.4 51.3 L1050.9 50.8 L1053.5 50.7 L1056.1 50.5 L1058.4 50.1 L1061.1 48.6 L1063.4 46.3 L1066 42.5 L1068.5 38.8 L1072.2 36.3 L1074.2 36.6 L1076.4 37.5 L1078.5 38.8 L1081.3 41.9 L1083.5 45.1 L1085.2 48 L1087.6 51.6 L1090.2 56 L1092.1 60.5 L1094.2 65.1 L1096.1 67.6 L1098.2 70 L1100.2 73.1 L1102.8 79.8 L1105.2 87.1 L1107.8 93.9 L1110.2 100.2 L1112.2 105.4 L1114.2 110 L1116.3 113.9 L1118.6 117.8 L1121.1 122.5 L1123.6 127.8 L1126.1 133.8 L1128.7 140.4 L1131.1 148.2 L1133.7 155.4 L1136.5 159.9 L1139.3 162.9 L1142.2 165.1 L1145 166.6 L1147.4 167.6 L1150 167.9 L1152.4 167.6 L1155 167.1 L1157.6 166.6 L1160.1 166.2 L1162.6 165.7 L1165.1 165.4 L1167.6 164.9 L1169.9 164.6 L1171.9 164.8 L1175 169.6 L1177.5 168.1 L1180.7 165.7 L1182.6 165.6 L1185.1 165.7 L1187.7 165.8 L1190.2 165.9 L1192.5 165.8 L1194.8 165.7 L1197 165.4 L1198.9 164.9 L1201.7 163.2 L1203.9 160.3 L1206.4 155.7 L1209 150.3 L1210.9 147 L1213 143.6 L1215.2 140.3 L1217.7 137 L1220.3 133.8 L1222.8 130.3 L1224.9 126.2 L1227 121.8 L1229 117.7 L1231.1 114.2 L1233.1 110.9 L1235.3 107.7 L1237.8 104.2 L1240.4 100.7 L1242.8 97.6 L1245.1 95.2 L1247.2 93.3 L1249.1 92.1 L1252.9 93.1 L1255.3 95.5 L1257.9 97.6 L1260.4 97.9 L1262.9 96.4 L1265.4 92.5 L1267.9 87.6 L1270.4 82.9 L1272.9 78.8 L1275.1 76.6 L1277.4 75.6 L1280.2 75.6 L1282.9 76.3 L1285.5 77.4 L1288 78.8 L1290.5 80.3 L1293 82.6 L1295.5 86.6 L1298 91.4 L1300.5 96.3 L1303 101.4 L1305.5 106.3 L1308 111.4 L1310.6 116.9 L1313 122.7 L1316.8 135.3 L1320.6 152.8 L1324.3 170.4 L1328.1 186.7 L1330.6 195 L1332.8 197.4 L1335.6 198.8 L1337.9 199.2 L1340.5 199.3 L1343.1 199.6 L1345.6 200.2 L1348.2 201.1 L1350.7 202.6 L1353.2 204.7 L1355.7 207.2 L1358.2 210.1 L1360.7 213.3 L1363.2 216.9 L1365.7 220.1 L1368.2 223 L1370.7 225.5 L1373.2 227.6 L1375.7 229.2 L1378.2 230.2 L1380.8 230.9 L1383.3 231.3 L1385.8 231.3 L1388.3 231.4 L1390.8 231.7 L1393.3 232.1 L1395.8 232.7 L1398.3 233.6 L1400.8 234.8 L1403.3 235.7 L1405.8 236 L1408.3 236 L1410.8 235.7 L1413.4 235 L1416 234.1 L1418.4 233.4 L1420.9 232.9 L1423.4 233.2 L1425.7 234 L1428.3 235.1 L1430.9 236.4 L1433.4 237.8 L1435.9 239.2 L1438.4 240.7 L1440.9 242.1 L1443.4 243.6 L1446 245.2 L1448.5 247.1 L1451 249.2 L1453.5 251.5 L1456.1 254 L1458.7 256.6 L1461 259 L1463.5 261.7 L1466 264 L1468.3 265.5 L1470.9 266.8 L1473.5 267.8 L1476.1 268.4 L1478.6 268.8 L1481.1 269 L1483.7 269 L1486.3 268.8 L1488.6 269 L1491.1 270.4 L1493.6 272.3 L1496 273.8 L1498.7 275.4 L1501.1 276.6 L1503.8 276.9 L1506.1 276.6 L1508.7 275.8 L1511.2 274.8 L1513.6 273.4 L1515.4 272.3" stroke="#f0525f" stroke-width="1" fill="none" stroke-linejoin="round"/>
<path d="M5.5 457.9 L7.2 459 L9.7 460.4 L12.5 461.7 L14.3 462.2 L16.2 462.7 L18.2 463.1 L20.4 463.5 L22.6 463.7 L24.5 463.8 L26.6 463.7 L28.7 463.7 L30.8 463.6 L33 463.5 L35.1 463.4 L37.2 463.4 L39.4 463.5 L41.5 463.5 L43.7 463.6 L45.7 463.6 L47.6 463.7 L49.9 463.8 L52 464 L54 464.2 L55.9 464.3 L57.7 464.2 L60.4 463.7 L62.8 462.8 L65.2 461.7 L67.7 460.2 L70.2 458.5 L72.7 456.7 L75.2 454.7 L77.7 452.6 L80.3 450.4 L82.8 447.7 L85.4 444.9 L87.8 442.9 L90 442.1 L92 442.2 L94 442.4 L96.1 442.5 L98.1 442.7 L100.3 442.9 L102.7 443 L105.3 443 L107.8 443.4 L110.3 444.2 L112.7 445.3 L115.4 446.1 L117.2 446.4 L119.2 446.5 L121.3 446.6 L123.3 446.6 L125.4 446.6 L127.4 446.7 L129.4 446.7 L131.4 446.7 L133.4 446.7 L135.4 446.6 L137.4 446.5 L139.4 446.2 L141.4 445.9 L143.4 445.6 L145.5 445.4 L147.5 445.1 L149.6 444.9 L151.7 444.6 L153.6 444.4 L155.5 444.1 L158.2 443.8 L160.6 443.4 L163 442.9 L165.4 442 L167.8 440.9 L170.5 439.9 L172.4 439.4 L174.4 438.9 L176.4 438.6 L178.5 438.2 L180.6 437.9 L182.6 437.6 L184.7 437.4 L186.8 437.2 L188.7 437 L190.6 436.6 L193.3 435.6 L195.7 434.2 L198.1 432.8 L200.6 431.4 L203.1 429.9 L205.6 428.3 L208.2 426.6 L210.7 424.7 L213.2 422.8 L215.8 420.7 L218.4 418.5 L220.7 416.5 L223.4 414.5 L225.7 412.8 L227.9 411 L230.7 409.8 L232.4 409.6 L234.4 409.5 L236.5 409.6 L238.7 409.7 L240.8 409.8 L242.8 409.8 L244.8 409.8 L246.8 409.8 L248.8 409.8 L250.8 409.8 L252.8 409.7 L254.8 409.6 L256.8 409.4 L258.8 409.2 L260.8 409 L262.9 408.7 L265.1 408.4 L267.2 408 L269.2 407.6 L270.8 407.3 L273.7 406.3 L275.9 405.8 L278.4 406.4 L280.9 407.8 L283.4 409.8 L285.9 411.5 L288.2 411.8 L290.9 411.5 L293.4 411.1 L296.1 410.5 L298.4 410.3 L302.2 412.8 L304.7 425.3 L306.5 428.3 L308.6 430.7 L311 432.8 L313.4 434.8 L315.9 436.4 L318.5 437.9 L320.9 439 L323.3 439.9 L326 440.9 L327.9 441.6 L329.9 442.4 L331.9 443.3 L334 444.1 L336.1 444.9 L338.1 445.5 L340.3 446.2 L342.4 446.8 L344.4 447.3 L346.1 447.9 L348.7 449.1 L351.1 450.4 L353.4 451.6 L356 453 L358.6 454.2 L361.1 455 L363.6 455.5 L366.1 455.9 L368.7 456 L371.3 456 L373.7 455.9 L376.6 455.5 L379.3 455.8 L382.2 458 L385 461.7 L387.6 467.1 L390 473 L392.5 478.3 L395 483 L397.6 486.2 L400.1 488.5 L402.4 490.2 L405.1 491 L407.4 491 L410 490.4 L412.6 489.3 L415.1 487.3 L417.6 484.7 L420.1 481.7 L422.6 478.4 L425.1 474.6 L427.6 470.5 L430.2 465.7 L432.9 460.6 L435.2 455.4 L437.8 448.2 L440.2 440.4 L442.7 430.8 L445.2 420.3 L447.7 408.6 L450.2 397.7 L452.7 390 L455.2 384.7 L457.7 382.2 L460.3 381.4 L462.2 381.3 L464.4 381.6 L466.5 382.2 L468.6 383 L470.6 384.1 L472.8 385.2 L475.2 386.3 L477.8 387.4 L480.3 388.2 L482.8 388.7 L485.3 388.9 L487.8 388.9 L490.4 388.8 L493 388.5 L495.4 388.2 L497.7 387.9 L500.4 387.7 L502.1 387.6 L504 387.6 L506.2 387.6 L508.3 387.6 L510.4 387.7 L512.5 387.9 L514.5 388.1 L516.6 388.4 L518.6 388.6 L520.4 388.9 L523.1 389.5 L525.5 390.2 L528 390.7 L530.5 391 L533 391.2 L535.5 391.5 L537.9 392 L540.3 392.6 L543 393.2 L544.9 393.5 L546.8 393.9 L548.9 394.2 L551 394.5 L553 394.7 L555 394.9 L557.1 395 L559.1 395.1 L561.1 395.2 L563.1 395.2 L565.1 395.2 L567.2 395.1 L569.3 395 L571.3 394.9 L573.1 394.7 L575.8 394.4 L578.2 393.9 L580.6 393.2 L583.1 392.3 L585.6 391.2 L588.2 389.7 L590.7 387.6 L593.2 385.2 L595.7 382.7 L598.2 380.1 L600.7 377.4 L603.2 375.2 L605.7 373.5 L608.2 372.3 L610.7 371.4 L613.2 370.9 L615.6 370.9 L618.2 370.9 L620.5 370.9 L622.9 370.9 L625.2 371 L627 371.4 L630.8 375.2 L633.2 379.9 L635.8 385.2 L638.3 390 L640.8 394 L643.3 396.5 L645.8 397.7 L648.2 397.8 L650.8 396.5 L653.2 394.6 L655.8 392.1 L658.4 389.7 L660.9 387.8 L663.4 385.9 L665.9 383.9 L668.4 381.7 L670.9 379.3 L673.4 376.4 L675.9 373.1 L678.4 369.3 L680.9 365.1 L683.5 360.4 L686.1 355.2 L688.5 350.1 L691.3 342.2 L693.5 335 L696 325.4 L698.3 320.1 L701 315.4 L703.4 312.5 L706 310.8 L708.3 310.3 L710.9 310.2 L713.5 310.3 L716.1 310.8 L718.6 311.4 L721.1 311.6 L723.6 311.1 L726.2 310.2 L728.6 309.1 L730.9 308.1 L733 306.9 L734.9 305.3 L738.6 297.8 L742.4 289 L746.1 285.3 L748.6 284.5 L751.2 284 L753.7 283 L756.2 281.8 L760 279.2 L762.4 278.2 L765 277.9 L767.4 278.8 L770 280.4 L772.4 281.8 L775 283.5 L777.6 284.9 L780.1 286 L782.6 286.9 L785.1 287.9 L787.6 289.1 L790.1 290.4 L792.6 291.7 L795.1 292.9 L797.6 294.1 L800.1 295 L802.6 295.4 L805.1 295.5 L807.6 295.5 L810.2 295.2 L812.7 294.7 L815.2 294.2 L817.7 293.6 L820.3 293 L822.7 292.4 L824.9 291.8 L826.9 291.2 L829 290.9 L831 291.5 L833.1 292.4 L835.2 292.9 L837.7 292.8 L840.2 292.2 L842.8 291.7 L845.3 291.3 L847.8 290.9 L850.3 290.4 L853 289.5 L855.7 288.6 L857.8 288.4 L860.3 294.2 L862.8 300.5 L865 302.9 L867.8 304.2 L870.2 304.1 L872.8 303.3 L875.4 302.5 L877.9 302 L880.4 301.5 L882.9 300.5 L885.4 298.7 L887.9 296.5 L890.4 294.2 L892.9 291.7 L895.4 289.1 L897.9 286.7 L900.4 284.5 L902.9 282.5 L905.5 280.4 L908 278 L910.5 275.5 L913 272.9 L915.6 270.2 L918.2 267.5 L920.5 264.1 L923.2 257.1 L925.5 250.3 L927.9 245.7 L930 243.3 L933 247.8 L936.8 251.6 L939.2 250.9 L941.8 249.1 L943.8 247.7 L946 246.1 L948.1 244 L950.2 241.4 L952.3 238.4 L954.4 235.3 L956.4 231.9 L958.5 228.5 L960.6 225.2 L962.9 222.1 L965.1 219.2 L966.9 217.2 L969.4 217.7 L973.2 208.9 L975.6 203.3 L978.2 197.6 L980.7 192.9 L983.2 188.9 L985.7 185.6 L988.2 182.6 L990.7 179.5 L993.2 176.3 L995.9 172.4 L998.2 168.8 L1001.3 165.5 L1004.5 172.1 L1008.3 174.3 L1010.5 174.1 L1013.3 173.1 L1015.7 172 L1018.4 170.6 L1020.8 168.8 L1023.5 165.4 L1025.8 161.3 L1028.3 156.7 L1030.8 151.3 L1033.4 143.4 L1035.9 136.6 L1039.6 134.8 L1042.1 135.4 L1044.6 136.6 L1047.1 138.3 L1049.7 139.9 L1051.7 140.2 L1053.9 140.4 L1055.9 140.9 L1058.5 142.6 L1060.9 145.4 L1063.4 149.7 L1066 155.4 L1068.5 162.8 L1071 170.5 L1073.5 176.6 L1076 183 L1078.5 191.9 L1081 200.2 L1083.4 204.5 L1086 207.7 L1088.3 210.2 L1090.9 212.8 L1093.5 215.2 L1096.1 217.8 L1098.7 220.2 L1101.1 221.5 L1103.6 220.1 L1106.1 217.7 L1108.4 216.9 L1111 216.4 L1113.6 216.5 L1116.1 217.6 L1118.6 219.3 L1121.1 220.2 L1123.6 219.6 L1126.1 218.2 L1128.7 216.5 L1131.3 214.3 L1133.9 211.9 L1136.2 210.2 L1140 210.1 L1142.2 210.6 L1144.9 211.4 L1147.5 212.1 L1150 212.5 L1152.5 212.8 L1155 213.1 L1157.6 213.4 L1160.1 213.8 L1162.6 213.9 L1165.2 213.6 L1167.8 213.2 L1170.1 212.6 L1172.8 211.1 L1175.1 210.1 L1177.5 211.2 L1180.1 213.1 L1182.4 214.3 L1185 215.5 L1187.6 216.4 L1190.2 216.9 L1192.7 217.1 L1195.2 217.1 L1197.6 216.8 L1200 216.4 L1202.7 216.4 L1204.6 216.9 L1206.6 217.7 L1208.8 218.5 L1210.8 219.3 L1212.7 219.6 L1215.4 219 L1217.8 217.7 L1220.3 217.1 L1222.9 218.1 L1225.5 219.9 L1227.8 221.4 L1230.3 222.4 L1232.8 222.6 L1235.1 222.1 L1237.7 221.2 L1240.3 220.1 L1242.9 219.2 L1245.4 218 L1247.8 216.4 L1250.1 213.7 L1252.2 210.6 L1254.1 207.6 L1257.9 200.6 L1260.4 200.6 L1262.9 205.1 L1265.4 215.1 L1267.7 221.2 L1270.4 227.6 L1272.9 234 L1275.4 240.2 L1277.9 246 L1280.4 251.5 L1282.8 256.7 L1285.5 261.5 L1287.8 264.2 L1290.4 266.6 L1293 269 L1295.6 271.6 L1298.2 274.1 L1300.5 276.6 L1303.2 279.5 L1305.5 282.8 L1308.1 288.1 L1310.5 292.9 L1314.3 295.4 L1318.1 291.6 L1320.5 287.4 L1323.1 282.8 L1325.6 279.2 L1328.1 276.6 L1330.4 275.2 L1333.1 274.8 L1335.4 275.1 L1338 275.8 L1340.6 276.6 L1343.1 277.2 L1345.6 277.8 L1348.2 278.3 L1350.7 278.7 L1353.2 279 L1355.7 279.1 L1358.3 278.7 L1360.9 278.1 L1363.2 277.8 L1365.9 278.2 L1368.2 279.1 L1370.6 280.9 L1373.2 282.3 L1375.6 282 L1378.2 281.1 L1380.8 280.3 L1383.3 279.9 L1385.8 279.7 L1388.3 279.8 L1390.8 280.4 L1393.3 281.2 L1395.8 282.3 L1398.4 283.5 L1400.9 284.9 L1403.3 286.6 L1405.5 288.6 L1407.5 291 L1409.6 294.1 L1411.7 298.3 L1413.9 303.2 L1415.9 307.9 L1418.4 314.3 L1420.9 320.4 L1423.4 326.6 L1425.9 331.7 L1428.2 334.4 L1430.9 336 L1433.2 336.9 L1435.8 337.5 L1438.4 338 L1440.9 338.5 L1443.4 339 L1446 339.2 L1448.5 339.2 L1451 339 L1453.5 338.5 L1456 337.8 L1458.5 336.9 L1461 336 L1463.5 335.1 L1466 334.2 L1468.5 333.5 L1470.9 333.2 L1473.4 333.1 L1476.1 333 L1478 332.8 L1480.1 332.7 L1482.3 332.4 L1484.4 332.1 L1486.1 331.7 L1488.9 330.2 L1491.1 328 L1493.6 325 L1496.1 321.7 L1498.6 318.2 L1501.1 315.4 L1503.6 314.8 L1506.1 315.4 L1508.7 316.9 L1511.2 319.2 L1513.6 322.6 L1515.4 325.5" stroke="#2a9d8a" stroke-width="1" fill="none" stroke-linejoin="round"/>
<path d="M5.5 436.6 L7.3 437.1 L9.8 437.7 L12.6 438.5 L15 439.1 L17.6 439.8 L20 440.4 L22.6 440.9 L24.4 441 L26.4 441.1 L28.5 441.2 L30.6 441.2 L32.6 441.1 L34.6 441 L36.6 440.9 L38.6 440.7 L40.6 440.5 L42.6 440.4 L44.6 440.2 L46.6 440.2 L48.7 440.1 L50.7 440 L52.7 439.9 L54.7 439.8 L56.8 439.7 L58.9 439.5 L60.9 439.4 L62.7 439.1 L65.4 438.4 L67.8 437.5 L70.2 436.6 L72.7 435.7 L75.1 434.8 L77.7 434.1 L79.8 433.7 L82.1 433.3 L84.3 433 L86.5 432.8 L88.7 432.7 L90.8 432.7 L93 432.8 L95.3 432.8 L97.2 432.9 L99.2 433.1 L101.3 433.2 L103.3 433.3 L105.3 433.3 L107.3 433.2 L109.3 433 L111.3 432.8 L113.4 432.5 L115.4 432.3 L117.4 432.2 L119.4 432 L121.4 431.9 L123.4 431.7 L125.4 431.6 L127.4 431.4 L129.4 431.3 L131.4 431.2 L133.4 431 L135.4 430.8 L137.4 430.6 L139.4 430.2 L141.4 429.9 L143.4 429.5 L145.5 429.1 L147.5 428.6 L149.6 428.2 L151.7 427.7 L153.6 427.1 L155.5 426.6 L158.2 425.5 L160.6 424.4 L163 423.3 L165.5 422.1 L168 421 L170.5 419.8 L173 418.7 L175.5 417.6 L178.1 416.5 L180.5 415.6 L182.9 414.8 L185.6 414 L187.5 413.5 L189.5 413 L191.7 412.5 L193.7 412 L195.6 411.5 L198.3 410.7 L200.7 409.8 L203.1 409 L205.6 408.2 L208.2 407.3 L210.7 406.5 L213.2 405.6 L215.7 404.7 L218.2 404 L220.7 403.5 L223.2 403.1 L225.7 402.7 L228.2 402.3 L230.7 401.9 L233.2 401.5 L235.6 401.2 L238.1 401.1 L240.8 401 L242.6 401 L244.6 401 L246.7 401 L248.7 401 L250.8 401 L252.8 400.9 L254.8 400.7 L256.8 400.6 L258.8 400.4 L260.8 400.2 L262.9 400.1 L264.9 400 L267 399.9 L269 399.8 L270.8 399.7 L273.5 399.7 L276 399.6 L278.4 399.7 L280.8 400 L283.2 400.4 L285.9 400.7 L287.8 400.9 L289.8 401 L292 401.1 L294 401.3 L295.9 401.5 L298.6 401.9 L301 402.5 L303.4 403.2 L306 404.2 L308.5 405.3 L311 406.5 L313.5 407.7 L316 408.9 L318.5 410.3 L321 411.7 L323.5 413.3 L326 414.8 L328.5 416.2 L331 417.6 L333.5 419 L336.1 420.5 L338.6 421.9 L341.1 423.3 L343.6 424.8 L346.1 426.3 L348.6 427.8 L351.1 429.3 L353.6 430.8 L356.1 432.3 L358.6 433.8 L361.1 435.3 L363.6 436.6 L366.2 437.6 L368.8 438.5 L371.2 439.1 L373.9 439.6 L376.2 439.9 L380 440.4 L382.2 439.2 L384.9 437.4 L387.5 435.3 L389.9 433.2 L392.4 430.7 L395 427.8 L396.9 425.8 L398.9 423.6 L400.9 421.2 L403 418.9 L405.1 416.5 L407.1 414.3 L409.1 412 L411.1 409.8 L413.1 407.5 L415.1 405.3 L417.1 403 L419.1 400.7 L421.1 398.5 L423.1 396.2 L425.1 394 L427.1 391.7 L429.2 389.4 L431.2 387.1 L433.2 384.9 L435.2 382.7 L437.2 380.5 L439.3 378.3 L441.4 376.2 L443.4 374.3 L445.2 372.6 L447.9 370.5 L450.3 368.9 L452.7 367.6 L455.2 366.7 L457.7 366.1 L460.3 365.9 L462.8 366.2 L465.3 366.9 L467.8 367.6 L470.2 368.4 L472.6 369.3 L475.3 370.1 L477.1 370.6 L479.1 371.1 L481.2 371.6 L483.3 372.1 L485.3 372.6 L487.3 373.2 L489.3 373.7 L491.3 374.2 L493.4 374.7 L495.4 375.2 L497.4 375.7 L499.4 376.2 L501.4 376.7 L503.4 377.2 L505.4 377.7 L507.4 378.1 L509.4 378.5 L511.4 378.9 L513.4 379.3 L515.4 379.7 L517.5 380.1 L519.6 380.4 L521.6 380.8 L523.6 381.1 L525.5 381.4 L528.1 381.8 L530.6 382.1 L533 382.2 L535.4 381.9 L537.8 381.4 L540.5 380.7 L542.3 380.2 L544.3 379.6 L546.4 378.9 L548.5 378.3 L550.5 377.7 L552.5 377.1 L554.5 376.5 L556.6 375.9 L558.6 375.3 L560.6 374.7 L562.6 374 L564.6 373.4 L566.6 372.7 L568.6 372.1 L570.6 371.4 L572.6 370.7 L574.7 370 L576.8 369.3 L578.8 368.7 L580.6 368.1 L583.3 367.5 L585.7 367 L588.2 366.4 L590.7 365.6 L593.2 364.7 L595.7 363.9 L598.2 363 L600.7 362.1 L603.2 361.4 L605.7 360.7 L608.2 360.2 L610.7 359.6 L613.2 358.9 L615.7 358.2 L618.2 357.6 L620.8 357.1 L623.4 356.7 L625.8 356.3 L628.4 355.9 L630.8 355 L633.1 353.1 L635.8 350.5 L638.1 348.2 L640.7 345.6 L643.3 342.9 L645.8 340.5 L648.3 338 L650.8 335.4 L653.4 332.5 L655.9 329.5 L658.4 326.6 L660.9 324.2 L663.4 322 L665.9 319.9 L668.4 317.9 L670.9 316 L673.4 314.1 L675.9 312.1 L678.4 310.1 L680.9 307.8 L683.4 305.1 L686 302.1 L688.5 299.1 L691 296 L693.5 293 L696 290.3 L698.5 288.1 L701 286.3 L703.5 284.8 L706 283.5 L708.5 282.5 L711 281.5 L713.5 280.7 L716.1 279.9 L718.6 279 L721.1 277.8 L723.6 276.4 L726.1 275.2 L728.6 274.3 L731.1 273.5 L733.6 272.7 L736.1 271.9 L738.6 271.1 L741.1 270.2 L743.6 269.4 L746.1 268.5 L748.7 267.7 L751.3 266.8 L753.9 265.9 L756.2 265.2 L760 264.1 L762.2 264.2 L764.9 264.5 L767.5 264.9 L770 265.4 L772.5 266 L775 266.6 L777.6 267.2 L780.1 267.7 L782.6 268.4 L785.1 269.2 L787.6 270 L790.1 270.9 L792.6 271.8 L795.1 272.7 L797.6 273.4 L800.1 273.8 L802.6 274 L805.1 274.1 L807.6 274.4 L810.2 274.6 L812.7 274.9 L815.2 275.3 L817.7 275.8 L820.2 276.1 L822.7 276.4 L825.2 276.6 L827.7 276.6 L830.2 276.4 L832.7 275.9 L835.2 275.4 L837.7 275 L840.3 274.6 L842.8 274.1 L845.3 273.6 L847.8 273 L850.3 272.4 L852.9 271.7 L855.5 270.8 L857.8 269.9 L860.5 268 L862.8 265.9 L865.2 263.9 L867.8 261.6 L870.2 259.3 L872.8 256.6 L875.4 254.1 L877.9 251.9 L880.4 249.8 L882.9 247.8 L885.4 245.7 L887.9 243.6 L890.4 241.5 L892.9 239.6 L895.4 237.7 L897.9 235.8 L900.4 233.9 L902.9 231.9 L905.5 229.7 L908 227.2 L910.5 224.4 L913 221.5 L915.5 218.6 L918 215.6 L920.5 212.7 L923 209.7 L925.5 206.8 L928 203.9 L930.5 201.3 L933 198.9 L935.5 196.4 L938.1 193.9 L940.6 191.4 L943.1 188.9 L945.6 186.4 L948.1 183.9 L950.6 181.3 L953.1 178.8 L955.6 176.3 L958.1 173.8 L960.6 171.4 L963.1 168.9 L965.6 166.3 L968.2 163.5 L970.8 160.6 L973.2 157.5 L975.7 152.6 L978.2 147.9 L980.5 145.2 L983.1 142.7 L985.7 140.4 L988.2 138.2 L990.7 136.1 L993.2 134.1 L995.7 132 L998.2 130 L1000.8 127.8 L1003.3 125.4 L1005.8 122.9 L1008.3 120.3 L1010.8 117.8 L1013.3 115.3 L1015.8 112.8 L1018.3 110.2 L1020.8 107.7 L1023.3 105.3 L1025.9 103 L1028.5 100.8 L1030.8 99 L1033.4 96.7 L1035.9 95.2 L1038.2 94.8 L1040.8 94.7 L1043.4 94.7 L1045.9 94.8 L1048.4 95 L1050.9 95.2 L1053.4 95.5 L1055.9 95.8 L1058.4 96.5 L1060.9 97.4 L1063.4 98.6 L1066 100.2 L1068.5 102.4 L1071 104.9 L1073.5 107.8 L1076 110.9 L1078.5 114.4 L1081 117.8 L1083.5 121.1 L1086 124.4 L1088.5 127.8 L1091 131.5 L1093.5 135.4 L1096.1 139.1 L1098.6 142.6 L1101.1 145.9 L1103.6 149.1 L1106.1 152.2 L1108.6 155 L1111.1 157.9 L1113.6 160.8 L1116.1 163.8 L1118.6 166.7 L1121.1 169.7 L1123.6 172.7 L1126.1 175.5 L1128.7 177.8 L1131.3 179.9 L1133.7 181.7 L1136.5 184.1 L1139.3 186.1 L1141.2 187.2 L1143.3 188.3 L1145.5 189.3 L1147.5 189.9 L1150.1 190.3 L1152.6 190.1 L1155 189.9 L1157.6 189.7 L1160.1 189.4 L1162.6 189.2 L1165.1 189.1 L1167.6 189.1 L1170.1 189.2 L1172.6 189.4 L1175.1 189.6 L1177.6 189.9 L1180.1 190.3 L1182.6 190.7 L1185.1 190.9 L1187.6 191.1 L1190.2 191.2 L1192.7 191.2 L1195.3 191.1 L1197.9 190.9 L1200.2 190.4 L1202.7 189.2 L1205.2 187.4 L1207.5 185.7 L1210.1 183.7 L1212.7 181.7 L1215.2 179.6 L1217.7 177.5 L1220.3 175.4 L1222.8 173.3 L1225.3 171.2 L1227.8 169.1 L1230.3 167 L1232.8 164.9 L1235.3 162.9 L1237.8 160.7 L1240.3 158.5 L1242.8 156.6 L1245.3 155 L1247.8 153.6 L1250.3 152.3 L1252.9 151.2 L1255.5 150.2 L1257.9 149.6 L1260.5 149.3 L1262.9 149.8 L1265.2 150.9 L1267.9 152.8 L1270.2 154.6 L1272.8 156.8 L1275.4 159.1 L1277.9 161.6 L1280.4 164.2 L1282.9 166.6 L1285.5 168.7 L1288 170.6 L1290.5 172.9 L1293 175.9 L1295.5 179.2 L1298 182.9 L1300.5 186.8 L1303 191 L1305.5 195.5 L1308.1 200.7 L1310.7 206.2 L1313 210.5 L1315.5 213 L1318.1 215.1 L1320.4 218.5 L1323 222.7 L1325.6 226.4 L1328.1 229.3 L1330.6 231.8 L1333.1 233.9 L1335.6 235.7 L1338.1 237 L1340.6 238.2 L1343.1 239 L1345.6 239.6 L1348.2 240.2 L1350.7 240.8 L1353.2 241.4 L1355.7 242.2 L1358.2 243.4 L1360.7 244.8 L1363.2 246.5 L1365.7 248.5 L1368.2 250.7 L1370.7 252.7 L1373.2 254.4 L1375.7 255.7 L1378.2 256.5 L1380.8 256.3 L1383.3 255.7 L1385.8 255.2 L1388.3 255.4 L1390.8 255.8 L1393.3 256.5 L1395.8 257.5 L1398.3 258.8 L1400.8 260.3 L1403.3 261.8 L1405.8 263.5 L1408.3 265.3 L1410.8 267.2 L1413.4 269.3 L1415.9 271.5 L1418.4 274 L1420.9 276.6 L1423.4 279.1 L1425.9 281.3 L1428.4 283.4 L1430.9 285.3 L1433.4 287 L1435.9 288.4 L1438.4 289.6 L1440.9 290.6 L1443.4 291.5 L1446 292.4 L1448.5 293.4 L1451 294.4 L1453.5 295.4 L1456 296.1 L1458.5 296.8 L1461 297.4 L1463.5 298 L1466 298.6 L1468.5 299.1 L1471 299.6 L1473.5 300 L1476.1 300.4 L1478.6 300.7 L1481.1 301 L1483.6 300.9 L1486.1 300.1 L1488.6 298.9 L1491.1 297.9 L1493.6 297 L1496.1 296.3 L1498.6 295.9 L1501.1 295.8 L1503.5 296.1 L1506.1 296.6 L1508.6 297.2 L1511.3 297.9 L1513.7 298.6 L1515.4 299.1" stroke="#3a6cf5" stroke-width="1" fill="none" stroke-linejoin="round"/>
<path d="M5 402.8H1530" stroke="#bbbcc0" stroke-width="1.3" stroke-dasharray="4.5 5.5" fill="none"/>
<path d="M1001.5 0.3V688" stroke="#7b7d84" stroke-width="1" stroke-dasharray="4.3 5.4" fill="none"/>
<path d="M9.7 449.4V456.2 M13.2 451.2V453.5 M20.4 449.4V454.8 M23.9 431.9V451.9 M31.1 435V441.2 M34.6 431.2V434.8 M38.2 427.5V435.6 M45.3 426.2V435.6 M52.5 424.8V431 M59.6 430V430.6 M66.8 429.4V436.9 M81 433.5V436.2 M88.2 434.4V441.2 M91.7 439.4V446.2 M98.9 439.4V440 M102.4 433.1V435.6 M109.6 426V436.9 M113.1 413.5V424.8 M116.7 416V423.1 M131 426.9V434.4 M134.5 423.1V430.6 M141.7 425.6V430.6 M145.3 424V424.8 M156 408.1V424.8 M163.1 401.9V408.1 M173.8 398.1V407.5 M177.4 393.1V406.2 M180.9 400.6V408.1 M184.5 405V409.4 M188.1 401V407.2 M191.6 406.9V410.6 M195.2 405V413.5 M198.8 402.2V408.1 M205.9 403.1V416.9 M209.5 394.4V406.2 M213 394.4V403.8 M223.7 396.9V406.9 M230.9 399V405.6 M234.5 387.5V401.9 M241.6 394.4V410 M245.2 395V400 M248.7 390V397.5 M259.4 397.5V403.1 M266.6 395.6V400.6 M291.5 406.9V414.4 M295.1 407.5V410 M298.7 405.6V410 M309.4 426.9V433.8 M320.1 427.5V436.9 M323.7 430.6V437.5 M337.9 433.1V437.5 M341.5 436V436.9 M352.2 444.4V451.2 M362.9 448.5V450.6 M366.5 439.8V448.8 M373.6 448.5V457.5 M377.2 440.2V452.5 M380.7 427.2V440.6 M384.3 415.2V429.4 M387.9 380.8V417.5 M391.4 363.9V387 M395 367.6V378.2 M398.6 328V379.5 M405.7 338V361.4 M416.4 357.6V368.9 M423.6 348V377.6 M427.1 335.1V360.1 M437.8 365.1V370.8 M441.4 356V371.4 M459.2 368.9V379.5 M469.9 378.2V382.6 M480.6 383.2V388.2 M484.2 376.4V385.8 M491.3 376.4V385.1 M494.9 369.2V381.4 M519.9 383.2V388.9 M527 383.9V396.8 M530.6 386V390.1 M534.2 369.2V386.4 M541.3 369.5V383.5 M544.9 357.2V372 M548.4 354.8V367.6 M555.6 364.5V371.4 M559.1 361.4V368.2 M566.3 362.8V366 M569.8 357.5V363.8 M573.4 357.2V362.8 M587.7 364.4V369 M591.3 356.5V365 M594.8 342.3V359.6 M609.1 350.2V362.8 M612.7 355.9V359.4 M616.2 348V360.9 M619.8 340.1V351.5 M623.4 344.2V353.1 M630.5 325V346.5 M634.1 315.2V328.8 M637.6 286.9V318.1 M641.2 257.2V293.1 M644.8 262.5V280 M655.5 288.1V300.6 M659 285.6V297.5 M676.9 272.5V312 M680.5 249.4V292.5 M691.2 273.1V284.8 M694.7 277.5V284.4 M698.3 271.9V282.5 M701.9 262.5V279.4 M705.4 264.4V276.2 M709 245.6V273.8 M712.6 253.5V267.5 M716.1 256.9V265 M719.7 251.9V265.6 M730.4 262.5V272.5 M741.1 251.2V272.5 M744.7 243.5V265 M751.8 260.6V270.6 M755.4 253.5V265 M769.7 274.4V285 M780.4 273.1V287.5 M787.5 281.2V290 M798.2 281.9V292.5 M805.3 265V287.5 M808.9 261.9V277.5 M823.2 267.5V280 M826.7 268.8V278.8 M830.3 264.4V276.2 M833.9 256.2V272.5 M844.6 266.9V273.1 M851.7 258.8V269.4 M858.9 255.6V265 M862.4 199.4V257.5 M866 188.1V213.1 M880.3 209.4V232.5 M883.8 205V225.6 M891 214.8V231.9 M894.5 206.9V223.5 M898.1 190.6V218.1 M905.2 211.2V228.1 M908.8 189.4V220.6 M912.4 155.6V204.4 M919.5 150V179.4 M930.2 158.8V176.2 M933.8 121.5V174.4 M948.1 130.3V158.8 M958.8 141.2V164.4 M962.3 136.2V152.5 M969.5 58.8V149.4 M976.6 102.5V127.5 M987.3 94.4V121.9 M994.4 105V123.1 M998 106.9V123.1 M1005.1 61V115.6 M1012.3 51.9V77.5 M1023 56.2V77.5 M1030.1 83.1V106.9 M1033.7 76V91.2 M1051.5 116.9V138.1 M1055.1 103.1V126.2 M1072.9 155.6V176.2 M1083.6 165V193.1 M1094.3 180V201.9 M1097.9 176.2V208.8 M1105 150.2V195 M1122.9 196.2V207.5 M1126.5 176.2V203.8 M1140.7 188.1V206.9 M1144.3 191.9V211.2 M1151.4 181.9V208.8 M1155 175.6V193.1 M1158.6 167.5V185.6 M1176.4 168.8V192.5 M1180 153.5V186.9 M1190.7 185.6V213.8 M1194.2 182.2V199.4 M1197.8 186.9V200 M1201.4 175V201.9 M1204.9 162.5V184.4 M1208.5 150.2V172.5 M1212.1 120V158.8 M1222.8 134.4V161.9 M1226.4 111.9V141.9 M1229.9 114.4V129.4 M1237.1 120V135.6 M1247.8 110V138.8 M1272.7 230V248.8 M1276.3 223.5V243.8 M1279.9 214.4V236.9 M1290.6 195V230.6 M1315.6 261.9V285.6 M1319.1 238.1V263.8 M1322.7 241.9V256.9 M1326.3 237.5V254.4 M1337 235V252.5 M1344.1 236.9V261.2 M1347.7 238.1V259.4 M1351.2 240.6V254.4 M1372.6 258.1V283.8 M1379.8 263.8V281.2 M1383.3 252.5V273.8 M1397.6 261.2V285.6 M1426.2 320V383.1 M1433.3 306.9V332.5 M1436.9 295V318.1 M1440.4 285.2V303.8 M1447.6 295.6V306.2 M1454.7 300.6V308.8 M1458.3 282.5V305 M1461.8 267.5V290 M1472.5 283.1V292.5 M1476.1 281.2V295.6 M1486.8 290.6V305.6 M1490.4 289.4V304.4 M1501.1 311V323.8 M1504.7 303.5V314" stroke="#089981" stroke-width="0.9" fill="none"/>
<path d="M6.1 451.9V458.8 M16.8 448.8V452.5 M27.5 430.2V436.2 M41.8 425.6V431.9 M48.9 428.1V432.5 M56.1 427.5V433.1 M63.2 430.2V430.8 M70.3 430.2V439.8 M73.9 435V439.4 M77.5 434V438.1 M84.6 434V437.5 M95.3 441.9V445 M106 419.4V443.1 M120.3 414.4V428.8 M123.8 425.6V430.6 M127.4 423.8V430.6 M138.1 421.2V428.8 M148.8 413.5V422.5 M152.4 416.9V424.4 M159.5 415.6V420.6 M166.7 394.4V405.6 M170.2 397.5V406.2 M202.3 400V410 M216.6 392.5V400 M220.2 400V410.6 M227.3 401.2V406.2 M238 390V402.5 M252.3 389V400 M255.9 397.2V402.5 M263 398.8V400 M270.1 398.5V400.6 M273.7 397.5V403.1 M277.3 399.4V406.2 M280.8 403.1V406.9 M284.4 405V410.6 M288 410V416.2 M302.2 408.8V425.6 M305.8 424.4V437.5 M312.9 430V434.4 M316.5 432.5V435.6 M327.2 430.2V434.4 M330.8 430.6V433.1 M334.4 430V435.6 M345.1 426.2V440 M348.6 437.8V448.5 M355.8 443.1V448.8 M359.3 447.5V451.9 M370 439.8V458.1 M402.1 337V359.5 M409.3 348V371.4 M412.9 365.1V372 M420 357V377.6 M430.7 354.2V368.9 M434.3 355.1V375.8 M445 361.4V370.8 M448.5 366.4V373.2 M452.1 366.4V377 M455.7 370.1V378.2 M462.8 369.2V373.9 M466.4 369.2V381.4 M473.5 377V387 M477.1 380.1V387 M487.8 370.8V384.5 M498.5 374.5V381.4 M502.1 378.9V385.1 M505.6 377V381.4 M509.2 377V382 M512.8 378.2V385.1 M516.3 381.4V389.5 M523.5 383.2V394.5 M537.7 364.5V380.1 M552 359.5V366.4 M562.7 361.4V365.1 M577 356.2V363.5 M580.5 357.2V365 M584.1 360V366.6 M598.4 339.8V356.2 M602 349.6V357.8 M605.5 355.9V360 M626.9 340.4V350.9 M648.3 263.1V284.4 M651.9 278.1V298.8 M662.6 290V298.1 M666.2 293.1V305.6 M669.7 298.8V306.2 M673.3 300.6V312 M684 262.5V283.8 M687.6 276.2V287.5 M723.3 254.4V262.5 M726.8 255V270 M734 262.5V272.5 M737.5 264.4V271.9 M748.2 247.2V269.4 M758.9 250.6V261.9 M762.5 256.2V273.8 M766.1 268.1V283.8 M773.2 270V285.6 M776.8 280.6V294.4 M783.9 272.2V288.1 M791.1 278.1V286.2 M794.6 281.9V292.5 M801.8 280.6V288.8 M812.5 259.4V274.4 M816 265.6V285.6 M819.6 270V278.8 M837.4 255V268.8 M841 258.1V274.4 M848.1 265V271.9 M855.3 259.8V268.8 M869.6 193.1V226.9 M873.1 206.9V226.2 M876.7 219.4V231.9 M887.4 216.9V224 M901.7 195V226.9 M915.9 153.1V185 M923.1 155.6V178.1 M926.6 165.6V178.1 M937.3 122.8V150.6 M940.9 140.6V159.4 M944.5 146.9V167.5 M951.6 135V152.5 M955.2 136.2V157.5 M965.9 137.5V153.1 M973 96.9V134.4 M980.2 88.1V125 M983.7 111.2V127.5 M990.9 89.4V121.2 M1001.6 106.2V120 M1008.7 43.1V85.6 M1015.8 60V81.9 M1019.4 45.6V75.6 M1026.5 55V98.8 M1037.3 76V96.9 M1040.8 78.8V170.6 M1044.4 94.4V130 M1048 101.2V133.8 M1058.7 115.6V131.9 M1062.2 123.1V138.1 M1065.8 129.4V151.2 M1069.4 148.1V176.2 M1076.5 142.2V173.1 M1080.1 166.9V190 M1087.2 168.8V188.1 M1090.8 173.1V189.4 M1101.5 181.9V200 M1108.6 142.2V182.5 M1112.2 175.6V193.1 M1115.7 178.8V200 M1119.3 185.6V200.6 M1130 171.2V197.5 M1133.6 190.6V202.5 M1137.2 194.4V213.8 M1147.9 196.9V210 M1162.1 167.5V185.6 M1165.7 173.8V185 M1169.3 175.6V188.1 M1172.8 175V191.9 M1183.5 155V211.2 M1187.1 196.9V212.5 M1215.7 133.1V151.9 M1219.2 139.4V156.9 M1233.5 114.4V134.4 M1240.6 118.1V133.8 M1244.2 121.2V135 M1251.3 109.4V136.2 M1254.9 130.6V160.6 M1258.5 154.4V173.8 M1262 171.9V207.5 M1265.6 198.1V241.2 M1269.2 221.9V245 M1283.4 211.2V228.8 M1287 213.1V236.2 M1294.1 200.6V216.2 M1297.7 211.9V222.5 M1301.3 213.1V228.1 M1304.9 225V239.4 M1308.4 235V267.5 M1312 263.8V309.8 M1329.8 228.8V251.9 M1333.4 241.2V256.2 M1340.5 229.8V266.9 M1354.8 238.1V249.4 M1358.4 243.8V254.4 M1361.9 250.6V268.1 M1365.5 255.6V280 M1369.1 270V285.6 M1376.2 264.4V297.5 M1386.9 254.4V265 M1390.5 253.1V264.4 M1394.1 258.8V284.4 M1401.2 256.2V278.8 M1404.8 263.8V283.8 M1408.3 276.9V295 M1411.9 276.2V305 M1415.5 281.2V311.9 M1419 303.1V328.1 M1422.6 317.5V337.5 M1429.7 309.4V331.2 M1444 287.5V300.6 M1451.1 282.5V306.9 M1465.4 275V285.6 M1469 281.9V290.6 M1479.7 284.4V296.2 M1483.3 291.9V301.9 M1494 291V303.1 M1497.5 300V323.8 M1508.2 302V314 M1511.8 310.3V327.6 M1515.4 319.3V332.9" stroke="#f23645" stroke-width="0.9" fill="none"/>
<path d="M8.5 449.4h2.4V456.2h-2.4Z M12 452.5h2.4V453.5h-2.4Z M19.2 453.1h2.4V454.8h-2.4Z M22.7 433.1h2.4V451.9h-2.4Z M29.9 435h2.4V441.2h-2.4Z M33.4 431.2h2.4V434.8h-2.4Z M37 427.5h2.4V434.4h-2.4Z M44.1 428.1h2.4V431.9h-2.4Z M51.3 424.8h2.4V431h-2.4Z M58.4 429.9h2.4V430.7h-2.4Z M65.6 430.6h2.4V431.5h-2.4Z M79.8 433.5h2.4V435h-2.4Z M87 434.3h2.4V435.1h-2.4Z M90.5 440.6h2.4V443.8h-2.4Z M97.7 439.3h2.4V440.1h-2.4Z M101.2 433.1h2.4V435.6h-2.4Z M108.4 426h2.4V433.8h-2.4Z M111.9 417.2h2.4V424.8h-2.4Z M115.5 416h2.4V423.1h-2.4Z M129.8 428.1h2.4V431.9h-2.4Z M133.3 424.8h2.4V428.8h-2.4Z M140.5 425.6h2.4V428.8h-2.4Z M144.1 424h2.4V424.8h-2.4Z M154.8 414.8h2.4V424.8h-2.4Z M161.9 403.1h2.4V408.1h-2.4Z M172.6 399.4h2.4V403.1h-2.4Z M176.2 400h2.4V401.2h-2.4Z M179.7 401.2h2.4V405.6h-2.4Z M183.3 405.6h2.4V407.8h-2.4Z M186.9 402.5h2.4V407.2h-2.4Z M190.4 406.9h2.4V410h-2.4Z M194 405h2.4V413.5h-2.4Z M197.6 402.2h2.4V404.4h-2.4Z M204.7 403.8h2.4V408.8h-2.4Z M208.3 398.8h2.4V405h-2.4Z M211.8 396.2h2.4V403.1h-2.4Z M222.5 401.9h2.4V406.2h-2.4Z M229.7 399h2.4V405.6h-2.4Z M233.3 393.8h2.4V401.2h-2.4Z M240.4 396.2h2.4V402.2h-2.4Z M244 398.1h2.4V399.4h-2.4Z M247.5 393.1h2.4V397.5h-2.4Z M258.2 398.8h2.4V402.2h-2.4Z M265.4 398.5h2.4V399.8h-2.4Z M290.3 409.4h2.4V414.4h-2.4Z M293.9 408.5h2.4V409.4h-2.4Z M297.5 408h2.4V408.8h-2.4Z M308.2 428.1h2.4V432.5h-2.4Z M318.9 434.4h2.4V435.6h-2.4Z M322.5 431.2h2.4V435h-2.4Z M336.7 433.8h2.4V434.8h-2.4Z M340.3 436h2.4V436.9h-2.4Z M351 446.2h2.4V448.1h-2.4Z M361.7 448.5h2.4V450.6h-2.4Z M365.3 441.9h2.4V448.8h-2.4Z M372.4 449.4h2.4V457.5h-2.4Z M376 440.2h2.4V452.5h-2.4Z M379.5 427.2h2.4V440.6h-2.4Z M383.1 415.2h2.4V427.2h-2.4Z M386.7 380.8h2.4V415h-2.4Z M390.2 377h2.4V380.8h-2.4Z M393.8 370.8h2.4V377h-2.4Z M397.4 356.4h2.4V372h-2.4Z M404.5 353.9h2.4V357.6h-2.4Z M415.2 359.5h2.4V368.9h-2.4Z M422.4 358.9h2.4V377.6h-2.4Z M425.9 353.9h2.4V358.9h-2.4Z M436.6 368h2.4V369.2h-2.4Z M440.2 364.5h2.4V368.5h-2.4Z M458 369.5h2.4V377h-2.4Z M468.7 379.5h2.4V380.5h-2.4Z M479.4 383.9h2.4V385.8h-2.4Z M483 378.9h2.4V383.9h-2.4Z M490.1 378.9h2.4V383.2h-2.4Z M493.7 376.4h2.4V380.5h-2.4Z M518.7 386.4h2.4V387.6h-2.4Z M525.8 389.5h2.4V391.4h-2.4Z M529.4 386.4h2.4V387.2h-2.4Z M533 370.8h2.4V385.8h-2.4Z M540.1 371.4h2.4V377.6h-2.4Z M543.7 360.1h2.4V370.5h-2.4Z M547.2 358.9h2.4V363.5h-2.4Z M554.4 364.5h2.4V365.8h-2.4Z M557.9 362h2.4V367h-2.4Z M565.1 362.8h2.4V366h-2.4Z M568.6 362.2h2.4V363.8h-2.4Z M572.2 357.2h2.4V359.7h-2.4Z M586.5 365.4h2.4V368.5h-2.4Z M590.1 356.5h2.4V365h-2.4Z M593.6 342.3h2.4V359.6h-2.4Z M607.9 355.9h2.4V360.6h-2.4Z M611.5 355.9h2.4V359.4h-2.4Z M615 349.3h2.4V354.3h-2.4Z M618.6 349.9h2.4V351.5h-2.4Z M622.2 344.2h2.4V348.6h-2.4Z M629.3 326.2h2.4V346.5h-2.4Z M632.9 315.2h2.4V328.8h-2.4Z M636.4 293.1h2.4V317.5h-2.4Z M640 277.5h2.4V293.1h-2.4Z M643.6 264.4h2.4V277.5h-2.4Z M654.3 296.9h2.4V300h-2.4Z M657.8 291.2h2.4V296.2h-2.4Z M675.7 284.4h2.4V310h-2.4Z M679.3 268.1h2.4V286.2h-2.4Z M690 278.8h2.4V284.8h-2.4Z M693.5 281.2h2.4V282.5h-2.4Z M697.1 272.8h2.4V278.1h-2.4Z M700.7 273.8h2.4V278.1h-2.4Z M704.2 270.2h2.4V272.5h-2.4Z M707.8 261.2h2.4V270.6h-2.4Z M711.4 261.2h2.4V262.5h-2.4Z M714.9 257.8h2.4V259h-2.4Z M718.5 256.2h2.4V257.8h-2.4Z M729.2 265h2.4V268.1h-2.4Z M739.9 257.2h2.4V272.5h-2.4Z M743.5 252.8h2.4V257.8h-2.4Z M750.6 263.8h2.4V270h-2.4Z M754.2 256.2h2.4V262.5h-2.4Z M768.5 275h2.4V283.5h-2.4Z M779.2 274h2.4V287.5h-2.4Z M786.3 282.2h2.4V284.8h-2.4Z M797 283.8h2.4V290.6h-2.4Z M804.1 272.8h2.4V286.9h-2.4Z M807.7 261.9h2.4V270.6h-2.4Z M822 273.1h2.4V275.6h-2.4Z M825.5 273.8h2.4V275.6h-2.4Z M829.1 266.2h2.4V275.6h-2.4Z M832.7 256.2h2.4V266.2h-2.4Z M843.4 267.5h2.4V272.2h-2.4Z M850.5 260.6h2.4V268.8h-2.4Z M857.7 256.2h2.4V263.5h-2.4Z M861.2 207.5h2.4V254.4h-2.4Z M864.8 201.2h2.4V207.5h-2.4Z M879.1 217.2h2.4V227.8h-2.4Z M882.6 217.2h2.4V218.8h-2.4Z M889.8 221.2h2.4V222h-2.4Z M893.3 209h2.4V222.5h-2.4Z M896.9 196.9h2.4V211.2h-2.4Z M904 211.9h2.4V226.2h-2.4Z M907.6 205h2.4V213.1h-2.4Z M911.2 171.9h2.4V204.4h-2.4Z M918.3 161.9h2.4V178.8h-2.4Z M929 174.4h2.4V175.2h-2.4Z M932.6 129h2.4V174.4h-2.4Z M946.9 143.1h2.4V156.9h-2.4Z M957.6 149.4h2.4V153.8h-2.4Z M961.1 146.9h2.4V151.2h-2.4Z M968.3 100.6h2.4V146h-2.4Z M975.4 113.8h2.4V118.8h-2.4Z M986.1 109.4h2.4V120h-2.4Z M993.2 116.9h2.4V118.8h-2.4Z M996.8 106.9h2.4V117.5h-2.4Z M1003.9 61h2.4V115h-2.4Z M1011.1 59.4h2.4V71.9h-2.4Z M1021.8 64.4h2.4V76.9h-2.4Z M1028.9 89.4h2.4V90.6h-2.4Z M1032.5 78.8h2.4V90.6h-2.4Z M1050.3 123.8h2.4V131.9h-2.4Z M1053.9 117.5h2.4V123.1h-2.4Z M1071.7 170h2.4V175h-2.4Z M1082.4 176.2h2.4V192.5h-2.4Z M1093.1 183.1h2.4V188.8h-2.4Z M1096.7 182.2h2.4V183.5h-2.4Z M1103.8 155h2.4V193.1h-2.4Z M1121.7 196.9h2.4V198.8h-2.4Z M1125.3 189.8h2.4V198.8h-2.4Z M1139.5 200h2.4V206.2h-2.4Z M1143.1 198.8h2.4V200.6h-2.4Z M1150.2 182.5h2.4V208.8h-2.4Z M1153.8 182.2h2.4V192.5h-2.4Z M1157.4 171.2h2.4V181.9h-2.4Z M1175.2 183.1h2.4V191.2h-2.4Z M1178.8 157.8h2.4V180.6h-2.4Z M1189.5 200h2.4V210h-2.4Z M1193 190h2.4V198.1h-2.4Z M1196.6 192.8h2.4V194h-2.4Z M1200.2 179.4h2.4V196.9h-2.4Z M1203.7 169.4h2.4V183.1h-2.4Z M1207.3 150.2h2.4V167.5h-2.4Z M1210.9 139.8h2.4V155h-2.4Z M1221.6 143.8h2.4V153.8h-2.4Z M1225.2 120h2.4V141.2h-2.4Z M1228.7 116.9h2.4V119.4h-2.4Z M1235.9 122.5h2.4V133.8h-2.4Z M1246.6 117.5h2.4V130.6h-2.4Z M1271.5 235.6h2.4V242.5h-2.4Z M1275.1 234.4h2.4V235.6h-2.4Z M1278.7 215.6h2.4V235.6h-2.4Z M1289.4 202.5h2.4V224.4h-2.4Z M1314.4 267.5h2.4V282.5h-2.4Z M1317.9 251.5h2.4V263.1h-2.4Z M1321.5 248.1h2.4V253.8h-2.4Z M1325.1 240h2.4V253.1h-2.4Z M1335.8 247.8h2.4V248.8h-2.4Z M1342.9 249.4h2.4V251.9h-2.4Z M1346.5 245.6h2.4V250h-2.4Z M1350 241.2h2.4V247.5h-2.4Z M1371.4 261.9h2.4V283.1h-2.4Z M1378.6 266.9h2.4V280.6h-2.4Z M1382.1 256.2h2.4V273.1h-2.4Z M1396.4 261.9h2.4V281.9h-2.4Z M1425 330h2.4V336.2h-2.4Z M1432.1 307.2h2.4V325h-2.4Z M1435.7 299.4h2.4V307.5h-2.4Z M1439.2 297.5h2.4V299.4h-2.4Z M1446.4 296.8h2.4V297.6h-2.4Z M1453.5 301h2.4V308.1h-2.4Z M1457.1 286.9h2.4V304.4h-2.4Z M1460.6 279h2.4V286.2h-2.4Z M1471.3 284h2.4V290h-2.4Z M1474.9 283.7h2.4V284.5h-2.4Z M1485.6 296.2h2.4V300h-2.4Z M1489.2 291.2h2.4V303.8h-2.4Z M1499.9 312.6h2.4V315.3h-2.4Z M1503.5 304.3h2.4V313.3h-2.4Z" fill="#089981"/>
<path d="M4.9 453.1h2.4V458.1h-2.4Z M15.6 448.8h2.4V449.8h-2.4Z M26.3 430.2h2.4V432.5h-2.4Z M40.6 425.6h2.4V427.5h-2.4Z M47.7 428.1h2.4V431h-2.4Z M54.9 427.5h2.4V430.2h-2.4Z M62 430.1h2.4V430.9h-2.4Z M69.1 430.2h2.4V439.8h-2.4Z M72.7 435h2.4V437.5h-2.4Z M76.3 434h2.4V438.1h-2.4Z M83.4 434h2.4V437.5h-2.4Z M94.1 441.9h2.4V443.1h-2.4Z M104.8 427.5h2.4V438.8h-2.4Z M119.1 414.4h2.4V426h-2.4Z M122.6 428.8h2.4V430.2h-2.4Z M126.2 428.1h2.4V430h-2.4Z M136.9 423.1h2.4V428.8h-2.4Z M147.6 420.6h2.4V422.2h-2.4Z M151.2 420.6h2.4V423.1h-2.4Z M158.3 416.9h2.4V419h-2.4Z M165.5 395.6h2.4V405.6h-2.4Z M169 399.4h2.4V403.8h-2.4Z M201.1 405.6h2.4V410h-2.4Z M215.4 392.5h2.4V400h-2.4Z M219 400h2.4V406.9h-2.4Z M226.1 401.2h2.4V406.2h-2.4Z M236.8 392.5h2.4V401.9h-2.4Z M251.1 393.8h2.4V399.4h-2.4Z M254.7 397.2h2.4V402.5h-2.4Z M261.8 398.8h2.4V400h-2.4Z M268.9 398.5h2.4V400.6h-2.4Z M272.5 399.4h2.4V402.2h-2.4Z M276.1 401.2h2.4V404.4h-2.4Z M279.6 403.1h2.4V406.9h-2.4Z M283.2 405h2.4V410.6h-2.4Z M286.8 410h2.4V416.2h-2.4Z M301 408.8h2.4V425.6h-2.4Z M304.6 424.4h2.4V432.5h-2.4Z M311.7 430h2.4V434.4h-2.4Z M315.3 432.5h2.4V435.6h-2.4Z M326 430.2h2.4V433.1h-2.4Z M329.6 430.6h2.4V433.1h-2.4Z M333.2 432.5h2.4V435.2h-2.4Z M343.9 435h2.4V439.8h-2.4Z M347.4 437.8h2.4V448.5h-2.4Z M354.6 444.4h2.4V448.1h-2.4Z M358.1 447.5h2.4V451.9h-2.4Z M368.8 441.2h2.4V457.5h-2.4Z M400.9 356.4h2.4V358.9h-2.4Z M408.1 351.4h2.4V369.5h-2.4Z M411.7 367.6h2.4V370.1h-2.4Z M418.8 360.8h2.4V377.6h-2.4Z M429.5 354.2h2.4V364.5h-2.4Z M433.1 364.5h2.4V371.4h-2.4Z M443.8 366.4h2.4V370.1h-2.4Z M447.3 368.9h2.4V371.4h-2.4Z M450.9 368.9h2.4V376.8h-2.4Z M454.5 372h2.4V376.8h-2.4Z M461.6 370.1h2.4V371.4h-2.4Z M465.2 371.4h2.4V379.5h-2.4Z M472.3 378.9h2.4V384.5h-2.4Z M475.9 382h2.4V385.8h-2.4Z M486.6 375.8h2.4V382h-2.4Z M497.3 375.5h2.4V378.9h-2.4Z M500.9 380.1h2.4V383h-2.4Z M504.4 378.2h2.4V379.5h-2.4Z M508 377.6h2.4V378.9h-2.4Z M511.6 378.2h2.4V385.1h-2.4Z M515.1 383.9h2.4V387h-2.4Z M522.3 385.5h2.4V391.4h-2.4Z M536.5 370.1h2.4V376h-2.4Z M550.8 359.5h2.4V366.4h-2.4Z M561.5 362.6h2.4V364.2h-2.4Z M575.8 358.7h2.4V362.8h-2.4Z M579.3 362.1h2.4V362.9h-2.4Z M582.9 360h2.4V366.6h-2.4Z M597.2 343h2.4V351.2h-2.4Z M600.8 351.8h2.4V355.9h-2.4Z M604.3 355.9h2.4V360h-2.4Z M625.7 343h2.4V345.8h-2.4Z M647.1 264.4h2.4V281.9h-2.4Z M650.7 281.2h2.4V298.8h-2.4Z M661.4 291.2h2.4V296.9h-2.4Z M665 296.2h2.4V300.6h-2.4Z M668.5 301.2h2.4V304.4h-2.4Z M672.1 301.9h2.4V311.2h-2.4Z M682.8 271.2h2.4V276.9h-2.4Z M686.4 278.8h2.4V284.4h-2.4Z M722.1 256.9h2.4V261.9h-2.4Z M725.6 259.4h2.4V265.6h-2.4Z M732.8 265h2.4V268.1h-2.4Z M736.3 266.2h2.4V270h-2.4Z M747 252.2h2.4V266.9h-2.4Z M757.7 259.4h2.4V261.2h-2.4Z M761.3 258.5h2.4V273.1h-2.4Z M764.9 269.4h2.4V279.4h-2.4Z M772 275h2.4V282.5h-2.4Z M775.6 283.8h2.4V287.5h-2.4Z M782.7 276.9h2.4V287.5h-2.4Z M789.9 281.9h2.4V284.4h-2.4Z M793.4 282.8h2.4V288.8h-2.4Z M800.6 282.2h2.4V286.2h-2.4Z M811.3 261.2h2.4V271h-2.4Z M814.8 270.2h2.4V277.5h-2.4Z M818.4 271.5h2.4V275h-2.4Z M836.2 257.5h2.4V263.1h-2.4Z M839.8 260h2.4V273.1h-2.4Z M846.9 266h2.4V267.2h-2.4Z M854.1 261.2h2.4V266.9h-2.4Z M868.4 199.4h2.4V217.5h-2.4Z M871.9 216.2h2.4V221.9h-2.4Z M875.5 223.1h2.4V227.8h-2.4Z M886.2 217.2h2.4V222.8h-2.4Z M900.5 196.9h2.4V225h-2.4Z M914.7 170h2.4V180.6h-2.4Z M921.9 160.6h2.4V177.5h-2.4Z M925.4 172.5h2.4V175.6h-2.4Z M936.1 131h2.4V145h-2.4Z M939.7 144.4h2.4V156.9h-2.4Z M943.3 151.9h2.4V155.6h-2.4Z M950.4 140.6h2.4V143.8h-2.4Z M954 141.9h2.4V153.8h-2.4Z M964.7 144.4h2.4V145.6h-2.4Z M971.8 99.4h2.4V115h-2.4Z M979 114h2.4V116.2h-2.4Z M982.5 118.8h2.4V123.8h-2.4Z M989.7 105h2.4V114.4h-2.4Z M1000.4 107.2h2.4V115h-2.4Z M1007.5 65h2.4V75.6h-2.4Z M1014.6 63.8h2.4V71.2h-2.4Z M1018.2 72.8h2.4V74.8h-2.4Z M1025.3 65h2.4V90.6h-2.4Z M1036.1 80.6h2.4V96.2h-2.4Z M1039.6 93.8h2.4V96.9h-2.4Z M1043.2 94.4h2.4V120h-2.4Z M1046.8 119.4h2.4V133.1h-2.4Z M1057.5 118.8h2.4V121.2h-2.4Z M1061 125h2.4V133.1h-2.4Z M1064.6 131.2h2.4V147.5h-2.4Z M1068.2 148.1h2.4V175.6h-2.4Z M1075.3 166.9h2.4V172.5h-2.4Z M1078.9 173.1h2.4V187.5h-2.4Z M1086 176.2h2.4V187.5h-2.4Z M1089.6 184.4h2.4V188.8h-2.4Z M1100.3 185.6h2.4V199.4h-2.4Z M1107.4 154.4h2.4V180.6h-2.4Z M1111 178.8h2.4V184.4h-2.4Z M1114.5 181.9h2.4V193.1h-2.4Z M1118.1 190h2.4V200h-2.4Z M1128.8 190.6h2.4V193.8h-2.4Z M1132.4 193.8h2.4V196.9h-2.4Z M1136 195h2.4V206.9h-2.4Z M1146.7 198.8h2.4V209.4h-2.4Z M1160.9 173.1h2.4V181.9h-2.4Z M1164.5 181.2h2.4V183.1h-2.4Z M1168.1 180h2.4V185h-2.4Z M1171.6 186.2h2.4V191.2h-2.4Z M1182.3 155.6h2.4V206.2h-2.4Z M1185.9 206.9h2.4V210h-2.4Z M1214.5 140h2.4V142.5h-2.4Z M1218 141.2h2.4V150.6h-2.4Z M1232.3 115h2.4V131.2h-2.4Z M1239.4 126.2h2.4V130h-2.4Z M1243 126.9h2.4V130.6h-2.4Z M1250.1 117.5h2.4V133.1h-2.4Z M1253.7 135h2.4V158.1h-2.4Z M1257.3 157.5h2.4V171.2h-2.4Z M1260.8 171.9h2.4V203.8h-2.4Z M1264.4 204.4h2.4V220h-2.4Z M1268 222.5h2.4V241.9h-2.4Z M1282.2 216.2h2.4V219.4h-2.4Z M1285.8 221.9h2.4V223.8h-2.4Z M1292.9 205h2.4V211.9h-2.4Z M1296.5 212.2h2.4V219.4h-2.4Z M1300.1 219.8h2.4V225.6h-2.4Z M1303.7 225.6h2.4V237.5h-2.4Z M1307.2 235.6h2.4V265.6h-2.4Z M1310.8 263.8h2.4V279.4h-2.4Z M1328.6 243.1h2.4V245.6h-2.4Z M1332.2 247.2h2.4V248.5h-2.4Z M1339.3 240h2.4V256.9h-2.4Z M1353.6 241.9h2.4V246.2h-2.4Z M1357.2 247.8h2.4V250.6h-2.4Z M1360.7 251h2.4V260h-2.4Z M1364.3 259.4h2.4V273.1h-2.4Z M1367.9 273.8h2.4V284.4h-2.4Z M1375 265h2.4V280.6h-2.4Z M1385.7 257.5h2.4V261.9h-2.4Z M1389.3 258.8h2.4V263.1h-2.4Z M1392.9 261.9h2.4V279.4h-2.4Z M1400 260.6h2.4V270.6h-2.4Z M1403.6 269.4h2.4V282.5h-2.4Z M1407.1 281.9h2.4V291.9h-2.4Z M1410.7 285h2.4V292.5h-2.4Z M1414.3 291.2h2.4V303.8h-2.4Z M1417.8 303.8h2.4V321.2h-2.4Z M1421.4 319.4h2.4V332.5h-2.4Z M1428.5 328.1h2.4V330h-2.4Z M1442.8 296.2h2.4V298.1h-2.4Z M1449.9 296.9h2.4V302.5h-2.4Z M1464.2 278.8h2.4V284.4h-2.4Z M1467.8 285.6h2.4V287.5h-2.4Z M1478.5 287.5h2.4V295.6h-2.4Z M1482.1 296.2h2.4V299.4h-2.4Z M1492.8 291.2h2.4V302.5h-2.4Z M1496.3 302.5h2.4V315.6h-2.4Z M1507 304.7h2.4V305.8h-2.4Z M1510.6 312.6h2.4V325.3h-2.4Z M1514.2 323.1h2.4V332.4h-2.4Z" fill="#f23645"/>
<rect x="5" y="261" width="1544" height="1.8" fill="#2c55c8"/>
<rect x="5" y="331.8" width="1544" height="1.8" fill="#2c55c8"/>
<rect x="5" y="352.9" width="1544" height="1.8" fill="#2c55c8"/>
<rect x="5" y="586.300" width="1544" height="79.900" fill="#7e57c2" fill-opacity="0.1"/>
<path d="M5.500 586.300H1549M5.500 666.200H1549" stroke="#55585f" stroke-width="1" stroke-dasharray="4.5 4.3" fill="none"/>
<path d="M5.500 626.300H1549" stroke="#acadb8" stroke-width="1" stroke-dasharray="4.5 4.3" fill="none"/>
<defs><linearGradient id="gu" x1="0" y1="553" x2="0" y2="586" gradientUnits="userSpaceOnUse"><stop offset="0" stop-color="#4caf50" stop-opacity="0.75"/><stop offset="1" stop-color="#4caf50" stop-opacity="0.05"/></linearGradient><linearGradient id="gd" x1="0" y1="666" x2="0" y2="682" gradientUnits="userSpaceOnUse"><stop offset="0" stop-color="#f44336" stop-opacity="0.03"/><stop offset="1" stop-color="#f44336" stop-opacity="0.35"/></linearGradient><clipPath id="cu"><rect x="0" y="540" width="1600" height="46"/></clipPath><clipPath id="cl"><rect x="0" y="666" width="1600" height="32"/></clipPath></defs>
<path d="M5 656.2 L8.8 639.5 L12 642.5 L17 636.2 L20 642 L23.8 610 L27 607 L30.5 613 L33.8 608 L37.5 603.8 L41.2 602.5 L45 605 L48.8 608.8 L52 602 L55.5 611.2 L60 613.8 L65.5 615.5 L69.5 632.5 L73 626.2 L76.2 628.8 L80 621.2 L83.8 626.2 L87 622.5 L90.5 636.2 L93.8 638.8 L97.5 633.8 L102 618.8 L105.5 628 L109.5 607.5 L112.5 599.5 L115.5 597 L118.8 612.5 L122.5 621.2 L126.2 621.2 L130 618.8 L133.8 615.5 L137 618.8 L140.5 615 L143.8 613.8 L147.5 610 L151.2 608.8 L155 599.5 L158.8 605 L162.5 587 L166.2 591.2 L172.5 586.2 L178.8 590 L184.5 601.2 L188 597.5 L192 608.8 L195.5 606.2 L198.8 602.5 L202 616.2 L206.2 606.2 L212.5 598.8 L216.2 606.2 L220 620 L223.8 615 L227.5 618.8 L231.2 607.5 L234.5 602 L237.5 614.5 L241.2 611.2 L245 610 L248 605 L251.2 614.5 L255 621.2 L258.8 618.8 L262.5 620 L267 617 L271.2 621.2 L275 625.5 L278.8 630 L282.5 638.8 L287.5 650 L291.2 636.2 L295 634.5 L298 635 L301.2 656.2 L305 666.2 L308.8 661.2 L315.5 667.5 L320 662.5 L323.8 657.5 L327.5 658 L330.5 656.2 L333.8 660 L337.5 659.5 L341.2 662.5 L345 667.5 L348.8 676.2 L352.5 673.8 L358.8 678.8 L362.5 671.2 L365.5 650.5 L369.5 670 L372.5 652.5 L376.2 635 L380 616.2 L383.8 602.5 L387 579.5 L391.2 576.2 L395 572 L398 567 L401.2 570 L405 568.8 L408 588.8 L412 590.5 L415.8 584.5 L419.2 605 L422.5 595 L426.2 592 L430 600.5 L433.8 607 L440 605 L446.2 611.2 L452.5 617.5 L456.2 617 L459.5 611.2 L463 616.2 L466.2 622.5 L471.2 626.2 L477 632.5 L480 629.5 L483.8 621.2 L487.5 623.8 L493.8 618.8 L497.5 621.2 L501.2 628 L505 622.5 L508 623 L512 633.8 L516.2 635.5 L520 637 L523.2 643.8 L526.2 641.2 L529.5 634.5 L533 606.2 L537 613.8 L540.5 608.8 L544.5 594.5 L548 595 L552 607.5 L558.8 602 L562.5 608.8 L568.8 606.2 L573 597.5 L576.2 607.5 L579.5 608.8 L583 618.2 L586.2 617.5 L590 600 L593.8 585 L597.5 598.8 L601.2 610 L605 617 L608.8 613.8 L613.8 611.2 L616.2 603.8 L619.5 603.8 L623 597.5 L627 599.5 L630 580 L633.8 571.2 L637.5 561.2 L641.2 556.2 L644.2 553 L647 572.5 L650.5 596.2 L657.5 593 L661.2 596.2 L668.8 607.5 L672.5 615.5 L676.2 596.2 L680 588 L683.8 596.2 L687.5 602.5 L691.2 600.5 L695 602.5 L698.8 597.5 L702.5 597 L706.2 594.5 L710 591.2 L718.8 586.2 L722.5 594.5 L726.2 600 L730 600.5 L737 607 L740.5 594.5 L743.8 591.2 L747.5 612.5 L751.2 610 L754.2 603 L757.5 607.5 L760 616.2 L763 627.5 L766.2 630.5 L769.5 628 L773 634.5 L777 639.5 L780 625 L783.8 637 L787 632.5 L790.5 633.8 L794.2 638.8 L798 633 L801.2 634.5 L805 618.8 L808.2 609.5 L811.8 617.5 L815 625.5 L818.8 622.5 L822 621.2 L825.5 622 L829.5 612.5 L833 603 L836.2 611.2 L840 625.5 L843.8 620 L847.5 618.8 L851.2 615.5 L854.5 617.5 L858 608.8 L861.8 575 L865.5 573 L869.2 592 L873 597.5 L876.2 602.5 L880 596.2 L883 595.8 L886.8 602 L890 601.2 L893.8 593.8 L897.5 586.2 L900.8 614.5 L904.5 606.2 L908 601.2 L910.8 586.8 L914.5 593 L918.8 586.2 L922.5 598.8 L926.2 597.5 L930 597 L933.8 579.5 L937.5 593.8 L941.2 600.5 L945 600 L948.8 594.5 L952 596.2 L955.5 603 L959.2 601.2 L962.5 600 L965.5 599.5 L969 580 L972.5 591.2 L976.2 592 L979.5 593.8 L983 599.5 L986.2 593.8 L990 597.5 L993.8 598.8 L997 595 L1000.5 600.5 L1004.2 578.8 L1008 589.5 L1011.2 585.5 L1015 592 L1018.8 595.5 L1022.5 592.5 L1026.2 611.2 L1029.5 610 L1033 606.2 L1037 618 L1040 617 L1043.8 631.2 L1047.5 638.8 L1051.2 633 L1055 629.5 L1058.8 632.5 L1062.5 642.5 L1066.2 652.5 L1068.8 659.2 L1072.5 655.5 L1075.5 656.2 L1079.2 663 L1083 652.5 L1086.8 657.5 L1090 658 L1093.8 655 L1097.5 653.8 L1101.2 660.5 L1105 628.8 L1108.8 641.2 L1112.5 643.8 L1116.2 648.8 L1120 650 L1123 648.8 L1126.2 643 L1130 645 L1133 646.2 L1137 652 L1140 646.2 L1143.8 645 L1147 651.2 L1150.5 636.2 L1153.8 627.5 L1157.5 619.5 L1161.2 627 L1165 628.8 L1168 630 L1172 635 L1175.8 627.5 L1179.5 609.5 L1183 641.2 L1186.8 643 L1190 637.5 L1193.8 630 L1197.5 631.2 L1201.2 622.5 L1204.5 616.2 L1208 606.2 L1211.8 600.5 L1215 602 L1218.8 608.8 L1222.5 602.5 L1226.2 593 L1229.5 592.5 L1233 603 L1236.2 600 L1240 605.5 L1243.8 605 L1247 598.8 L1250.5 612.5 L1253.8 628.8 L1257.5 637.5 L1261.2 651.2 L1265 660 L1268.8 667 L1272.5 663 L1275.8 662 L1279.5 648.8 L1283 649.5 L1286.2 651.2 L1290 637 L1293.8 640.5 L1297.5 645 L1301.2 648.8 L1305 655 L1308 665 L1311.2 670 L1315 662.5 L1318.8 649.5 L1322 646.2 L1325.5 641.2 L1329.2 643 L1332.5 644.5 L1336.2 645 L1339.5 650 L1343 643.8 L1347 640 L1351.2 636.2 L1355 639.5 L1358.8 643.8 L1362.5 651.2 L1366.2 659.5 L1368.8 663.8 L1372 643 L1375.5 651.2 L1379.2 639.5 L1382.5 633.8 L1386.2 636.2 L1389.5 637 L1393 646.2 L1396.8 634.5 L1400 638.8 L1403.8 646.2 L1407.5 650.5 L1411.2 652.5 L1415 658.8 L1418.8 667 L1422.5 671.2 L1426.2 670.5 L1430 667.5 L1433 646.2 L1436.8 638.8 L1440 636.8 L1443.8 636.2 L1447.5 636.8 L1451.2 640 L1454.5 639.5 L1458 623.8 L1461.5 617.5 L1465 622.5 L1468.8 625 L1472 623 L1475.8 623.8 L1479.2 635 L1482.5 637.5 L1486.2 633.8 L1490 630 L1493.2 641.2 L1496.8 651.2 L1500 648.8 L1503.8 638.8 L1507 639.5 L1510.5 652.5 L1513 657.5 L1515.5 660.5 L1515.5 586 L5 586Z" fill="url(#gu)" clip-path="url(#cu)"/>
<path d="M5 656.2 L8.8 639.5 L12 642.5 L17 636.2 L20 642 L23.8 610 L27 607 L30.5 613 L33.8 608 L37.5 603.8 L41.2 602.5 L45 605 L48.8 608.8 L52 602 L55.5 611.2 L60 613.8 L65.5 615.5 L69.5 632.5 L73 626.2 L76.2 628.8 L80 621.2 L83.8 626.2 L87 622.5 L90.5 636.2 L93.8 638.8 L97.5 633.8 L102 618.8 L105.5 628 L109.5 607.5 L112.5 599.5 L115.5 597 L118.8 612.5 L122.5 621.2 L126.2 621.2 L130 618.8 L133.8 615.5 L137 618.8 L140.5 615 L143.8 613.8 L147.5 610 L151.2 608.8 L155 599.5 L158.8 605 L162.5 587 L166.2 591.2 L172.5 586.2 L178.8 590 L184.5 601.2 L188 597.5 L192 608.8 L195.5 606.2 L198.8 602.5 L202 616.2 L206.2 606.2 L212.5 598.8 L216.2 606.2 L220 620 L223.8 615 L227.5 618.8 L231.2 607.5 L234.5 602 L237.5 614.5 L241.2 611.2 L245 610 L248 605 L251.2 614.5 L255 621.2 L258.8 618.8 L262.5 620 L267 617 L271.2 621.2 L275 625.5 L278.8 630 L282.5 638.8 L287.5 650 L291.2 636.2 L295 634.5 L298 635 L301.2 656.2 L305 666.2 L308.8 661.2 L315.5 667.5 L320 662.5 L323.8 657.5 L327.5 658 L330.5 656.2 L333.8 660 L337.5 659.5 L341.2 662.5 L345 667.5 L348.8 676.2 L352.5 673.8 L358.8 678.8 L362.5 671.2 L365.5 650.5 L369.5 670 L372.5 652.5 L376.2 635 L380 616.2 L383.8 602.5 L387 579.5 L391.2 576.2 L395 572 L398 567 L401.2 570 L405 568.8 L408 588.8 L412 590.5 L415.8 584.5 L419.2 605 L422.5 595 L426.2 592 L430 600.5 L433.8 607 L440 605 L446.2 611.2 L452.5 617.5 L456.2 617 L459.5 611.2 L463 616.2 L466.2 622.5 L471.2 626.2 L477 632.5 L480 629.5 L483.8 621.2 L487.5 623.8 L493.8 618.8 L497.5 621.2 L501.2 628 L505 622.5 L508 623 L512 633.8 L516.2 635.5 L520 637 L523.2 643.8 L526.2 641.2 L529.5 634.5 L533 606.2 L537 613.8 L540.5 608.8 L544.5 594.5 L548 595 L552 607.5 L558.8 602 L562.5 608.8 L568.8 606.2 L573 597.5 L576.2 607.5 L579.5 608.8 L583 618.2 L586.2 617.5 L590 600 L593.8 585 L597.5 598.8 L601.2 610 L605 617 L608.8 613.8 L613.8 611.2 L616.2 603.8 L619.5 603.8 L623 597.5 L627 599.5 L630 580 L633.8 571.2 L637.5 561.2 L641.2 556.2 L644.2 553 L647 572.5 L650.5 596.2 L657.5 593 L661.2 596.2 L668.8 607.5 L672.5 615.5 L676.2 596.2 L680 588 L683.8 596.2 L687.5 602.5 L691.2 600.5 L695 602.5 L698.8 597.5 L702.5 597 L706.2 594.5 L710 591.2 L718.8 586.2 L722.5 594.5 L726.2 600 L730 600.5 L737 607 L740.5 594.5 L743.8 591.2 L747.5 612.5 L751.2 610 L754.2 603 L757.5 607.5 L760 616.2 L763 627.5 L766.2 630.5 L769.5 628 L773 634.5 L777 639.5 L780 625 L783.8 637 L787 632.5 L790.5 633.8 L794.2 638.8 L798 633 L801.2 634.5 L805 618.8 L808.2 609.5 L811.8 617.5 L815 625.5 L818.8 622.5 L822 621.2 L825.5 622 L829.5 612.5 L833 603 L836.2 611.2 L840 625.5 L843.8 620 L847.5 618.8 L851.2 615.5 L854.5 617.5 L858 608.8 L861.8 575 L865.5 573 L869.2 592 L873 597.5 L876.2 602.5 L880 596.2 L883 595.8 L886.8 602 L890 601.2 L893.8 593.8 L897.5 586.2 L900.8 614.5 L904.5 606.2 L908 601.2 L910.8 586.8 L914.5 593 L918.8 586.2 L922.5 598.8 L926.2 597.5 L930 597 L933.8 579.5 L937.5 593.8 L941.2 600.5 L945 600 L948.8 594.5 L952 596.2 L955.5 603 L959.2 601.2 L962.5 600 L965.5 599.5 L969 580 L972.5 591.2 L976.2 592 L979.5 593.8 L983 599.5 L986.2 593.8 L990 597.5 L993.8 598.8 L997 595 L1000.5 600.5 L1004.2 578.8 L1008 589.5 L1011.2 585.5 L1015 592 L1018.8 595.5 L1022.5 592.5 L1026.2 611.2 L1029.5 610 L1033 606.2 L1037 618 L1040 617 L1043.8 631.2 L1047.5 638.8 L1051.2 633 L1055 629.5 L1058.8 632.5 L1062.5 642.5 L1066.2 652.5 L1068.8 659.2 L1072.5 655.5 L1075.5 656.2 L1079.2 663 L1083 652.5 L1086.8 657.5 L1090 658 L1093.8 655 L1097.5 653.8 L1101.2 660.5 L1105 628.8 L1108.8 641.2 L1112.5 643.8 L1116.2 648.8 L1120 650 L1123 648.8 L1126.2 643 L1130 645 L1133 646.2 L1137 652 L1140 646.2 L1143.8 645 L1147 651.2 L1150.5 636.2 L1153.8 627.5 L1157.5 619.5 L1161.2 627 L1165 628.8 L1168 630 L1172 635 L1175.8 627.5 L1179.5 609.5 L1183 641.2 L1186.8 643 L1190 637.5 L1193.8 630 L1197.5 631.2 L1201.2 622.5 L1204.5 616.2 L1208 606.2 L1211.8 600.5 L1215 602 L1218.8 608.8 L1222.5 602.5 L1226.2 593 L1229.5 592.5 L1233 603 L1236.2 600 L1240 605.5 L1243.8 605 L1247 598.8 L1250.5 612.5 L1253.8 628.8 L1257.5 637.5 L1261.2 651.2 L1265 660 L1268.8 667 L1272.5 663 L1275.8 662 L1279.5 648.8 L1283 649.5 L1286.2 651.2 L1290 637 L1293.8 640.5 L1297.5 645 L1301.2 648.8 L1305 655 L1308 665 L1311.2 670 L1315 662.5 L1318.8 649.5 L1322 646.2 L1325.5 641.2 L1329.2 643 L1332.5 644.5 L1336.2 645 L1339.5 650 L1343 643.8 L1347 640 L1351.2 636.2 L1355 639.5 L1358.8 643.8 L1362.5 651.2 L1366.2 659.5 L1368.8 663.8 L1372 643 L1375.5 651.2 L1379.2 639.5 L1382.5 633.8 L1386.2 636.2 L1389.5 637 L1393 646.2 L1396.8 634.5 L1400 638.8 L1403.8 646.2 L1407.5 650.5 L1411.2 652.5 L1415 658.8 L1418.8 667 L1422.5 671.2 L1426.2 670.5 L1430 667.5 L1433 646.2 L1436.8 638.8 L1440 636.8 L1443.8 636.2 L1447.5 636.8 L1451.2 640 L1454.5 639.5 L1458 623.8 L1461.5 617.5 L1465 622.5 L1468.8 625 L1472 623 L1475.8 623.8 L1479.2 635 L1482.5 637.5 L1486.2 633.8 L1490 630 L1493.2 641.2 L1496.8 651.2 L1500 648.8 L1503.8 638.8 L1507 639.5 L1510.5 652.5 L1513 657.5 L1515.5 660.5 L1515.5 666 L5 666Z" fill="url(#gd)" clip-path="url(#cl)"/>
<path d="M5 621.2 L7.2 624.1 L10 627.5 L12.4 629.5 L15 631.2 L17 632.6 L19.1 634 L21.2 635 L23.3 635.4 L25.3 635.5 L27.5 635.5 L30 635.5 L32.6 635.4 L35 635 L37.7 633.5 L40 631.2 L42.5 628.2 L45 625 L47.4 622.5 L50 620 L52 618.1 L54.1 616.2 L56.2 614.5 L58.3 613.2 L60.4 612.1 L62.5 611.2 L64.6 610.7 L66.7 610.5 L68.8 610.5 L70.8 610.8 L72.8 611.3 L75 612 L77.4 612.8 L80 613.8 L82.5 615 L85 616.4 L87.5 618 L90 619.5 L92.5 620.8 L95 622 L97.5 623 L100 623.9 L102.5 624.6 L105 625 L107.5 624.9 L110 624.4 L112.5 623.8 L115 623 L117.5 622 L120 621.2 L122.5 620.8 L125 620.4 L127.5 620 L130 619.4 L132.5 618.8 L135 618 L137.5 617.1 L140 616 L142.5 615 L145 614.1 L147.5 613.3 L150 612.5 L152.5 611.8 L155 611.1 L157.5 610.5 L160 610 L162.5 609.5 L165 608.8 L167.5 607.6 L170 606.3 L172.5 605 L175 603.7 L177.5 602.4 L180 601.2 L182.5 600.3 L185 599.4 L187.5 598.8 L190 598.2 L192.5 597.8 L195 597.5 L197.5 597.4 L200 597.4 L202.5 597.5 L205 597.8 L207.5 598.2 L210 598.8 L212.5 599.4 L215 600.3 L217.5 601.2 L220 602.5 L222.5 603.8 L225 605 L227.5 606 L230 606.8 L232.5 607.5 L235 608 L237.5 608.4 L240 608.8 L242.5 609 L245 609.2 L247.5 609.5 L250 610 L252.5 610.6 L255 611.2 L257.5 611.9 L260 612.5 L262.5 613 L265 613.3 L267.5 613.5 L270 613.8 L272.5 614.2 L275 614.7 L277.5 615.5 L280 616.8 L282.5 618.4 L285 620 L287.5 621.6 L290 623.2 L292.5 625 L295 627 L297.5 629.1 L300 631.2 L302.5 633.3 L305 635.3 L307.5 637.5 L310 640 L312.5 642.5 L315 645 L317.5 647.2 L320 649.4 L322.5 651.2 L325 652.9 L327.5 654.2 L330 655.5 L332.5 656.7 L335 657.7 L337.5 658.8 L340 659.9 L342.5 661 L345 662 L347.5 662.9 L350 663.8 L352.5 664.5 L355 665.1 L357.5 665.5 L360 665.8 L362.5 665.8 L365 665.7 L367.5 665.5 L370.1 665.4 L372.7 665.1 L375 664.5 L377.7 662.7 L380 660 L382.5 656.6 L385 652.5 L387.5 647.7 L390 642.5 L392.5 637 L395 631.2 L397.5 625.5 L400 620 L402.5 614.8 L405 610 L407.5 605.4 L410 601.2 L412.5 597.9 L415 595 L417.5 592.1 L420 589.5 L422.5 587.6 L425 586.2 L427.5 585.3 L430 585 L432.5 585.3 L435 586.2 L437.3 587.6 L440 589.5 L442.3 591.1 L444.9 593 L447.5 595 L450 597.3 L452.5 599.8 L455 602 L457.5 603.6 L460 604.9 L462.5 606.2 L465 607.9 L467.5 609.6 L470 611.2 L472.5 612.8 L475 614.2 L477.5 615.5 L480 616.7 L482.5 617.8 L485 618.8 L487.5 619.5 L490 620 L492.5 620.5 L495 621 L497.5 621.5 L500 622 L502.5 622.3 L505 622.6 L507.5 623 L510 623.7 L512.5 624.6 L515 625.5 L517.5 626.2 L520 626.9 L522.5 627.5 L525 628.1 L527.5 628.5 L530 628.8 L532.5 628.6 L535 628.1 L537.5 627.5 L540 626.6 L542.5 625.6 L545 624.5 L547.5 623.4 L550 622.3 L552.5 621.2 L555 620.2 L557.5 619.2 L560 618 L562.5 616.7 L565 615.3 L567.5 613.8 L570.1 611.8 L572.7 609.8 L575 608 L577.5 606.1 L580 605 L582.3 604.9 L584.9 605.3 L587.5 605.5 L590 605.4 L592.5 605.1 L595 605 L597.5 605.1 L600 605.2 L602.5 605.5 L605 606 L607.5 606.5 L610 607 L612.5 607.3 L615 607.4 L617.5 607.5 L620.1 607.5 L622.7 607.3 L625 607 L627.7 606.3 L630 605 L632.3 602.5 L635 599.5 L637.3 597.3 L639.9 595 L642.5 593 L645 591.4 L647.5 590 L650 588.8 L652.5 587.6 L655 586.6 L657.5 585.8 L660 585.1 L662.5 584.6 L665 584.5 L667.5 584.9 L670 585.6 L672.5 586.2 L675 586.6 L677.5 586.9 L680 587.5 L682.5 588.7 L685 590.3 L687.5 592 L690 593.9 L692.5 595.9 L695 597.5 L697.5 598.5 L700 599.1 L702.5 599.5 L705 599.7 L707.5 599.8 L710 599.5 L712.5 598.8 L715.1 597.9 L717.5 597 L719.7 596.2 L721.7 595.4 L723.8 595 L725.8 595.2 L727.8 595.8 L730 596.2 L732.4 596.5 L735 596.7 L737.5 596.8 L740 596.6 L742.5 596.3 L745 596.2 L747.6 596.5 L750.2 597 L752.5 597.5 L755.3 598.5 L757.5 599.5 L760 600.5 L762.1 602.4 L764.8 605 L767.5 607.5 L770 609.7 L772.5 611.7 L775 613.8 L777.5 615.7 L780 617.7 L782.5 619.5 L785 621.3 L787.5 623 L790 624.5 L792.5 625.8 L795 627 L797.5 628 L800 628.9 L802.5 629.6 L805 630 L807.5 630.1 L810 629.8 L812.5 629.5 L815 629.1 L817.5 628.6 L820 628 L822.5 627.3 L825 626.4 L827.5 625.5 L830 624.5 L832.5 623.5 L835 622.5 L837.5 621.6 L840 620.7 L842.5 620 L845 619.5 L847.5 619.2 L850 618.8 L852.5 618.1 L855 617.4 L857.5 616.2 L860 614.4 L862.5 612.1 L865 610 L867.5 608.3 L870 606.8 L872.5 605.5 L875 604.5 L877.5 603.7 L880 603 L882.5 602.4 L885 602 L887.5 601.2 L890 600.1 L892.5 598.6 L895 597.5 L897.5 596.9 L900 596.5 L902.5 596.2 L905 595.9 L907.5 595.7 L910 595.8 L912.5 596.2 L915 597 L917.5 597.5 L920 597.5 L922.5 597.3 L925 597 L927.5 596.8 L930 596.5 L932.5 596.2 L935 595.8 L937.5 595.4 L940 595 L942.5 594.8 L945 594.6 L947.5 594.5 L950 594.4 L952.5 594.4 L955 594.5 L957.5 594.6 L960 594.8 L962.5 595 L965 595.3 L967.5 595.6 L970 595.8 L972.5 595.6 L975 595.2 L977.5 595 L980 595.1 L982.5 595.5 L985 595.8 L987.5 596 L990 596.1 L992.5 596.2 L995 596.4 L997.5 596.5 L1000 596.2 L1002.6 595.6 L1005.2 594.6 L1007.5 593.8 L1010 592.9 L1012.5 592.5 L1014.8 592.8 L1017.4 593.3 L1020 593.8 L1022.5 594 L1025 594.2 L1027.5 594.5 L1030 594.9 L1032.5 595.4 L1035 596.2 L1037.5 597.4 L1040 598.9 L1042.5 600.5 L1045 602.2 L1047.5 604.1 L1050 606.2 L1052.5 608.5 L1055 611 L1057.5 613.8 L1060 616.9 L1062.5 620.4 L1065 623.8 L1067.5 626.8 L1070 629.7 L1072.5 632.5 L1075 635.2 L1077.5 637.7 L1080 640 L1082.5 642.1 L1085 643.9 L1087.5 645.5 L1090 646.8 L1092.5 647.8 L1095 648.8 L1097.5 649.5 L1100 650.2 L1102.5 650.8 L1105 651.3 L1107.5 651.7 L1110 652 L1112.5 652.1 L1115 652 L1117.5 651.8 L1120 651.3 L1122.5 650.7 L1125 650 L1127.6 649.3 L1130.2 648.6 L1132.5 648 L1135.3 647.5 L1137.5 647.2 L1140 647 L1142.1 646.5 L1144.8 645.7 L1147.5 645 L1150 644.4 L1152.5 643.7 L1155 643 L1157.5 642.1 L1160 641 L1162.5 640 L1165 639.1 L1167.5 638.4 L1170 637.5 L1172.5 636.5 L1175 635.4 L1177.5 634.5 L1180 633.8 L1182.5 633.1 L1185 632.5 L1187.5 631.8 L1190 631.1 L1192.5 630.5 L1195 629.9 L1197.5 629.4 L1200 628.8 L1202.5 628 L1205 627.2 L1207.5 626.2 L1210 625.2 L1212.5 624.1 L1215 623 L1217.5 621.9 L1220 620.8 L1222.5 619.5 L1225 618.1 L1227.5 616.6 L1230 615 L1232.5 613.2 L1235 611.3 L1237.5 609.5 L1240.1 607.7 L1242.7 605.9 L1245 604.5 L1247.7 603.3 L1250 603 L1252.5 603.4 L1255 604.5 L1257.5 606.3 L1260 608.8 L1262.5 611.8 L1265 615 L1267.5 618.1 L1270 621.2 L1272.5 624.7 L1275 628 L1277.5 631 L1280 633.8 L1282.5 636.3 L1285 638.8 L1287.5 640.9 L1290 643 L1292.3 645 L1295 647 L1297.3 648.4 L1299.9 649.9 L1302.5 651.2 L1305.1 652.5 L1307.7 653.7 L1310 654.5 L1312.7 654.8 L1315 654.5 L1317.3 653.6 L1320 652.5 L1322.3 651.8 L1324.9 651.1 L1327.5 650.5 L1330 650 L1332.5 649.7 L1335 649.5 L1337.5 649.6 L1340 649.9 L1342.5 650 L1345 649.8 L1347.5 649.3 L1350 648.8 L1352.6 648 L1355.2 647.1 L1357.5 646.2 L1360 645.2 L1362.5 644.5 L1364.8 644.5 L1367.4 644.7 L1370 645 L1372.5 645.5 L1375 646 L1377.5 646.2 L1380 646 L1382.5 645.5 L1385 645 L1387.5 644.5 L1390 644.1 L1392.5 643.8 L1395 643.6 L1397.5 643.6 L1400 643.8 L1402.5 644 L1405 644.2 L1407.5 644.5 L1410 644.6 L1412.5 644.7 L1415 645 L1417.5 645.8 L1420 646.9 L1422.5 648 L1425 649 L1427.5 650 L1430 650.8 L1432.5 651.1 L1435 651.2 L1437.5 651.2 L1440 651.1 L1442.5 650.9 L1445 650.8 L1447.6 650.7 L1450.2 650.6 L1452.5 650.5 L1455.2 650.2 L1457.5 649.5 L1460 648.1 L1462.5 646.2 L1465 643.9 L1467.5 641.2 L1470 638.2 L1472.5 635.5 L1475 633.7 L1477.5 632.5 L1479.8 631.7 L1482.5 631.2 L1484.8 630.9 L1487.4 630.6 L1490 630.5 L1492.5 630.9 L1495 631.5 L1497.5 632 L1500.1 632.2 L1502.7 632.2 L1505 632.5 L1507.6 633.5 L1510 635 L1513.1 637 L1515.5 638.8" stroke="#f5d76a" stroke-width="1.1" fill="none" stroke-linejoin="round"/>
<path d="M5 656.2 L8.8 639.5 L12 642.5 L17 636.2 L20 642 L23.8 610 L27 607 L30.5 613 L33.8 608 L37.5 603.8 L41.2 602.5 L45 605 L48.8 608.8 L52 602 L55.5 611.2 L60 613.8 L65.5 615.5 L69.5 632.5 L73 626.2 L76.2 628.8 L80 621.2 L83.8 626.2 L87 622.5 L90.5 636.2 L93.8 638.8 L97.5 633.8 L102 618.8 L105.5 628 L109.5 607.5 L112.5 599.5 L115.5 597 L118.8 612.5 L122.5 621.2 L126.2 621.2 L130 618.8 L133.8 615.5 L137 618.8 L140.5 615 L143.8 613.8 L147.5 610 L151.2 608.8 L155 599.5 L158.8 605 L162.5 587 L166.2 591.2 L172.5 586.2 L178.8 590 L184.5 601.2 L188 597.5 L192 608.8 L195.5 606.2 L198.8 602.5 L202 616.2 L206.2 606.2 L212.5 598.8 L216.2 606.2 L220 620 L223.8 615 L227.5 618.8 L231.2 607.5 L234.5 602 L237.5 614.5 L241.2 611.2 L245 610 L248 605 L251.2 614.5 L255 621.2 L258.8 618.8 L262.5 620 L267 617 L271.2 621.2 L275 625.5 L278.8 630 L282.5 638.8 L287.5 650 L291.2 636.2 L295 634.5 L298 635 L301.2 656.2 L305 666.2 L308.8 661.2 L315.5 667.5 L320 662.5 L323.8 657.5 L327.5 658 L330.5 656.2 L333.8 660 L337.5 659.5 L341.2 662.5 L345 667.5 L348.8 676.2 L352.5 673.8 L358.8 678.8 L362.5 671.2 L365.5 650.5 L369.5 670 L372.5 652.5 L376.2 635 L380 616.2 L383.8 602.5 L387 579.5 L391.2 576.2 L395 572 L398 567 L401.2 570 L405 568.8 L408 588.8 L412 590.5 L415.8 584.5 L419.2 605 L422.5 595 L426.2 592 L430 600.5 L433.8 607 L440 605 L446.2 611.2 L452.5 617.5 L456.2 617 L459.5 611.2 L463 616.2 L466.2 622.5 L471.2 626.2 L477 632.5 L480 629.5 L483.8 621.2 L487.5 623.8 L493.8 618.8 L497.5 621.2 L501.2 628 L505 622.5 L508 623 L512 633.8 L516.2 635.5 L520 637 L523.2 643.8 L526.2 641.2 L529.5 634.5 L533 606.2 L537 613.8 L540.5 608.8 L544.5 594.5 L548 595 L552 607.5 L558.8 602 L562.5 608.8 L568.8 606.2 L573 597.5 L576.2 607.5 L579.5 608.8 L583 618.2 L586.2 617.5 L590 600 L593.8 585 L597.5 598.8 L601.2 610 L605 617 L608.8 613.8 L613.8 611.2 L616.2 603.8 L619.5 603.8 L623 597.5 L627 599.5 L630 580 L633.8 571.2 L637.5 561.2 L641.2 556.2 L644.2 553 L647 572.5 L650.5 596.2 L657.5 593 L661.2 596.2 L668.8 607.5 L672.5 615.5 L676.2 596.2 L680 588 L683.8 596.2 L687.5 602.5 L691.2 600.5 L695 602.5 L698.8 597.5 L702.5 597 L706.2 594.5 L710 591.2 L718.8 586.2 L722.5 594.5 L726.2 600 L730 600.5 L737 607 L740.5 594.5 L743.8 591.2 L747.5 612.5 L751.2 610 L754.2 603 L757.5 607.5 L760 616.2 L763 627.5 L766.2 630.5 L769.5 628 L773 634.5 L777 639.5 L780 625 L783.8 637 L787 632.5 L790.5 633.8 L794.2 638.8 L798 633 L801.2 634.5 L805 618.8 L808.2 609.5 L811.8 617.5 L815 625.5 L818.8 622.5 L822 621.2 L825.5 622 L829.5 612.5 L833 603 L836.2 611.2 L840 625.5 L843.8 620 L847.5 618.8 L851.2 615.5 L854.5 617.5 L858 608.8 L861.8 575 L865.5 573 L869.2 592 L873 597.5 L876.2 602.5 L880 596.2 L883 595.8 L886.8 602 L890 601.2 L893.8 593.8 L897.5 586.2 L900.8 614.5 L904.5 606.2 L908 601.2 L910.8 586.8 L914.5 593 L918.8 586.2 L922.5 598.8 L926.2 597.5 L930 597 L933.8 579.5 L937.5 593.8 L941.2 600.5 L945 600 L948.8 594.5 L952 596.2 L955.5 603 L959.2 601.2 L962.5 600 L965.5 599.5 L969 580 L972.5 591.2 L976.2 592 L979.5 593.8 L983 599.5 L986.2 593.8 L990 597.5 L993.8 598.8 L997 595 L1000.5 600.5 L1004.2 578.8 L1008 589.5 L1011.2 585.5 L1015 592 L1018.8 595.5 L1022.5 592.5 L1026.2 611.2 L1029.5 610 L1033 606.2 L1037 618 L1040 617 L1043.8 631.2 L1047.5 638.8 L1051.2 633 L1055 629.5 L1058.8 632.5 L1062.5 642.5 L1066.2 652.5 L1068.8 659.2 L1072.5 655.5 L1075.5 656.2 L1079.2 663 L1083 652.5 L1086.8 657.5 L1090 658 L1093.8 655 L1097.5 653.8 L1101.2 660.5 L1105 628.8 L1108.8 641.2 L1112.5 643.8 L1116.2 648.8 L1120 650 L1123 648.8 L1126.2 643 L1130 645 L1133 646.2 L1137 652 L1140 646.2 L1143.8 645 L1147 651.2 L1150.5 636.2 L1153.8 627.5 L1157.5 619.5 L1161.2 627 L1165 628.8 L1168 630 L1172 635 L1175.8 627.5 L1179.5 609.5 L1183 641.2 L1186.8 643 L1190 637.5 L1193.8 630 L1197.5 631.2 L1201.2 622.5 L1204.5 616.2 L1208 606.2 L1211.8 600.5 L1215 602 L1218.8 608.8 L1222.5 602.5 L1226.2 593 L1229.5 592.5 L1233 603 L1236.2 600 L1240 605.5 L1243.8 605 L1247 598.8 L1250.5 612.5 L1253.8 628.8 L1257.5 637.5 L1261.2 651.2 L1265 660 L1268.8 667 L1272.5 663 L1275.8 662 L1279.5 648.8 L1283 649.5 L1286.2 651.2 L1290 637 L1293.8 640.5 L1297.5 645 L1301.2 648.8 L1305 655 L1308 665 L1311.2 670 L1315 662.5 L1318.8 649.5 L1322 646.2 L1325.5 641.2 L1329.2 643 L1332.5 644.5 L1336.2 645 L1339.5 650 L1343 643.8 L1347 640 L1351.2 636.2 L1355 639.5 L1358.8 643.8 L1362.5 651.2 L1366.2 659.5 L1368.8 663.8 L1372 643 L1375.5 651.2 L1379.2 639.5 L1382.5 633.8 L1386.2 636.2 L1389.5 637 L1393 646.2 L1396.8 634.5 L1400 638.8 L1403.8 646.2 L1407.5 650.5 L1411.2 652.5 L1415 658.8 L1418.8 667 L1422.5 671.2 L1426.2 670.5 L1430 667.5 L1433 646.2 L1436.8 638.8 L1440 636.8 L1443.8 636.2 L1447.5 636.8 L1451.2 640 L1454.5 639.5 L1458 623.8 L1461.5 617.5 L1465 622.5 L1468.8 625 L1472 623 L1475.8 623.8 L1479.2 635 L1482.5 637.5 L1486.2 633.8 L1490 630 L1493.2 641.2 L1496.8 651.2 L1500 648.8 L1503.8 638.8 L1507 639.5 L1510.5 652.5 L1513 657.5 L1515.5 660.5" stroke="#7e57c2" stroke-width="0.95" stroke-opacity="0.92" fill="none" stroke-linejoin="round"/>
<rect x="940" y="692" width="122.500" height="6" fill="#000"/>
<circle cx="18.5" cy="-2.2" r="4.8" fill="#f0215a"/>
<circle cx="266.5" cy="-3.5" r="6" fill="#d5ecea"/>
<g fill="none" stroke="#eeeff1" stroke-width="1"><rect x="1499.500" y="-10" width="21" height="14.500" rx="3"/><rect x="1524.500" y="-10" width="20.500" height="14.500" rx="3"/><rect x="1552.500" y="-10" width="60" height="16.500" rx="3"/></g>
<rect x="14.500" y="664.800" width="142" height="18" fill="#fff"/>
<g fill="#101114"><path d="M16 666.250h10.250v13h-5.150v-8.500h-5.100z"/><circle cx="30.500" cy="668.500" r="2.250"/><path d="M35.250 666.250h6.750l-4.750 13h-6z"/></g>
</svg>
<div class="lg" style="top:10px"><b>BB</b> 20 SMA close 2<span class="n" style="left:111.600px;color:#3a6cf5">2,456</span><span class="n" style="left:145.200px;color:#f0525f">2,595</span><span class="n" style="left:178.700px;color:#2a9d8a">2,317</span></div>
<div id="ohlc">O1,703 H1,709 L1,681 C1,684 &minus;19,32 (&minus;1,13%)</div>
<div id="btn"><svg width="23" height="16" viewBox="0 0 23 16" style="display:block"><path d="M8.300 10.200L12.100 6.500L15.900 10.200" fill="none" stroke="#131722" stroke-width="1.500"/></svg></div>
<div class="lg" style="top:546px;padding-left:13.300px;letter-spacing:-0.060px"><b>RSI</b> 14 close<span class="n" style="left:80.500px;color:#8562cc">62,33</span><span class="n" style="left:114.200px;color:#f2c83b">64,77</span></div>
<div id="tv">TradingView</div>
<div class="ax" style="top:33.5px">2,800</div>
<div class="ax" style="top:85.7px">2,600</div>
<div class="ax" style="top:137.9px">2,400</div>
<div class="ax" style="top:190.1px">2,200</div>
<div class="ax" style="top:242.3px">2,000</div>
<div class="ax" style="top:451.1px">1,200</div>
<div class="ax" style="top:503.3px">1,000</div>
<div class="ax" style="top:558.5px">80,00</div>
<div class="ax" style="top:598.5px">60,00</div>
<div class="ax" style="top:638.5px">40,00</div>
<div class="ax" style="top:678.5px">20,00</div>
<div class="pl" style="left:1550px;top:250.3px;width:38px;height:14.5px;background:#2962ff;color:#fff;">1,951</div><div class="pl" style="left:1550px;top:265.3px;width:38px;height:14.6px;background:#f23645;color:#fff;">1,912</div><div class="pl" style="left:1550px;top:292.3px;width:38px;height:14.6px;background:#2962ff;color:#fff;">1,808</div><div class="pl" style="left:1550px;top:310.3px;width:38px;height:14.6px;background:#089981;color:#fff;">1,704</div><div class="pl" style="left:1550px;top:325px;width:50px;height:27px;background:#f23645;color:#fff;border-radius:2px 0 0 2px;line-height:12.500px;padding-top:1px">1,684<br><span style="letter-spacing:-0.050px;opacity:.85;margin-left:-0.700px">01:00:41</span></div><div class="pl" style="left:1550px;top:352px;width:38px;height:14.5px;background:#2962ff;color:#fff;border-radius:0 2px 0 0">1,680</div><div class="pl" style="left:1550px;top:366px;width:38px;height:15.7px;background:#2962ff;color:#fff;border-radius:0 0 2px 2px;line-height:15px">1,600</div><div class="pl" style="left:1550px;top:393.8px;width:38px;height:17.4px;background:#0c0d10;color:#fff;line-height:17.400px;font-weight:bold">1,413</div><div style="position:absolute;left:1530.200px;top:393.800px;width:18.800px;height:17.400px;background:#0c0d10;border-radius:2px"><svg width="18.700" height="17.400" viewBox="0 0 18.700 17.400" style="display:block"><circle cx="9.300" cy="8.700" r="5.600" fill="none" stroke="#fff" stroke-width="1"/><path d="M9.300 5.700V11.700M6.300 8.700H12.300" stroke="#fff" stroke-width="1.200"/></svg></div><div class="pl" style="left:1550px;top:632px;width:38px;height:14.3px;background:#fdd835;color:#131722;">43,54</div><div class="pl" style="left:1550px;top:654.3px;width:38px;height:14.3px;background:#7e57c2;color:#fff;">32,64</div></div></body></html>
